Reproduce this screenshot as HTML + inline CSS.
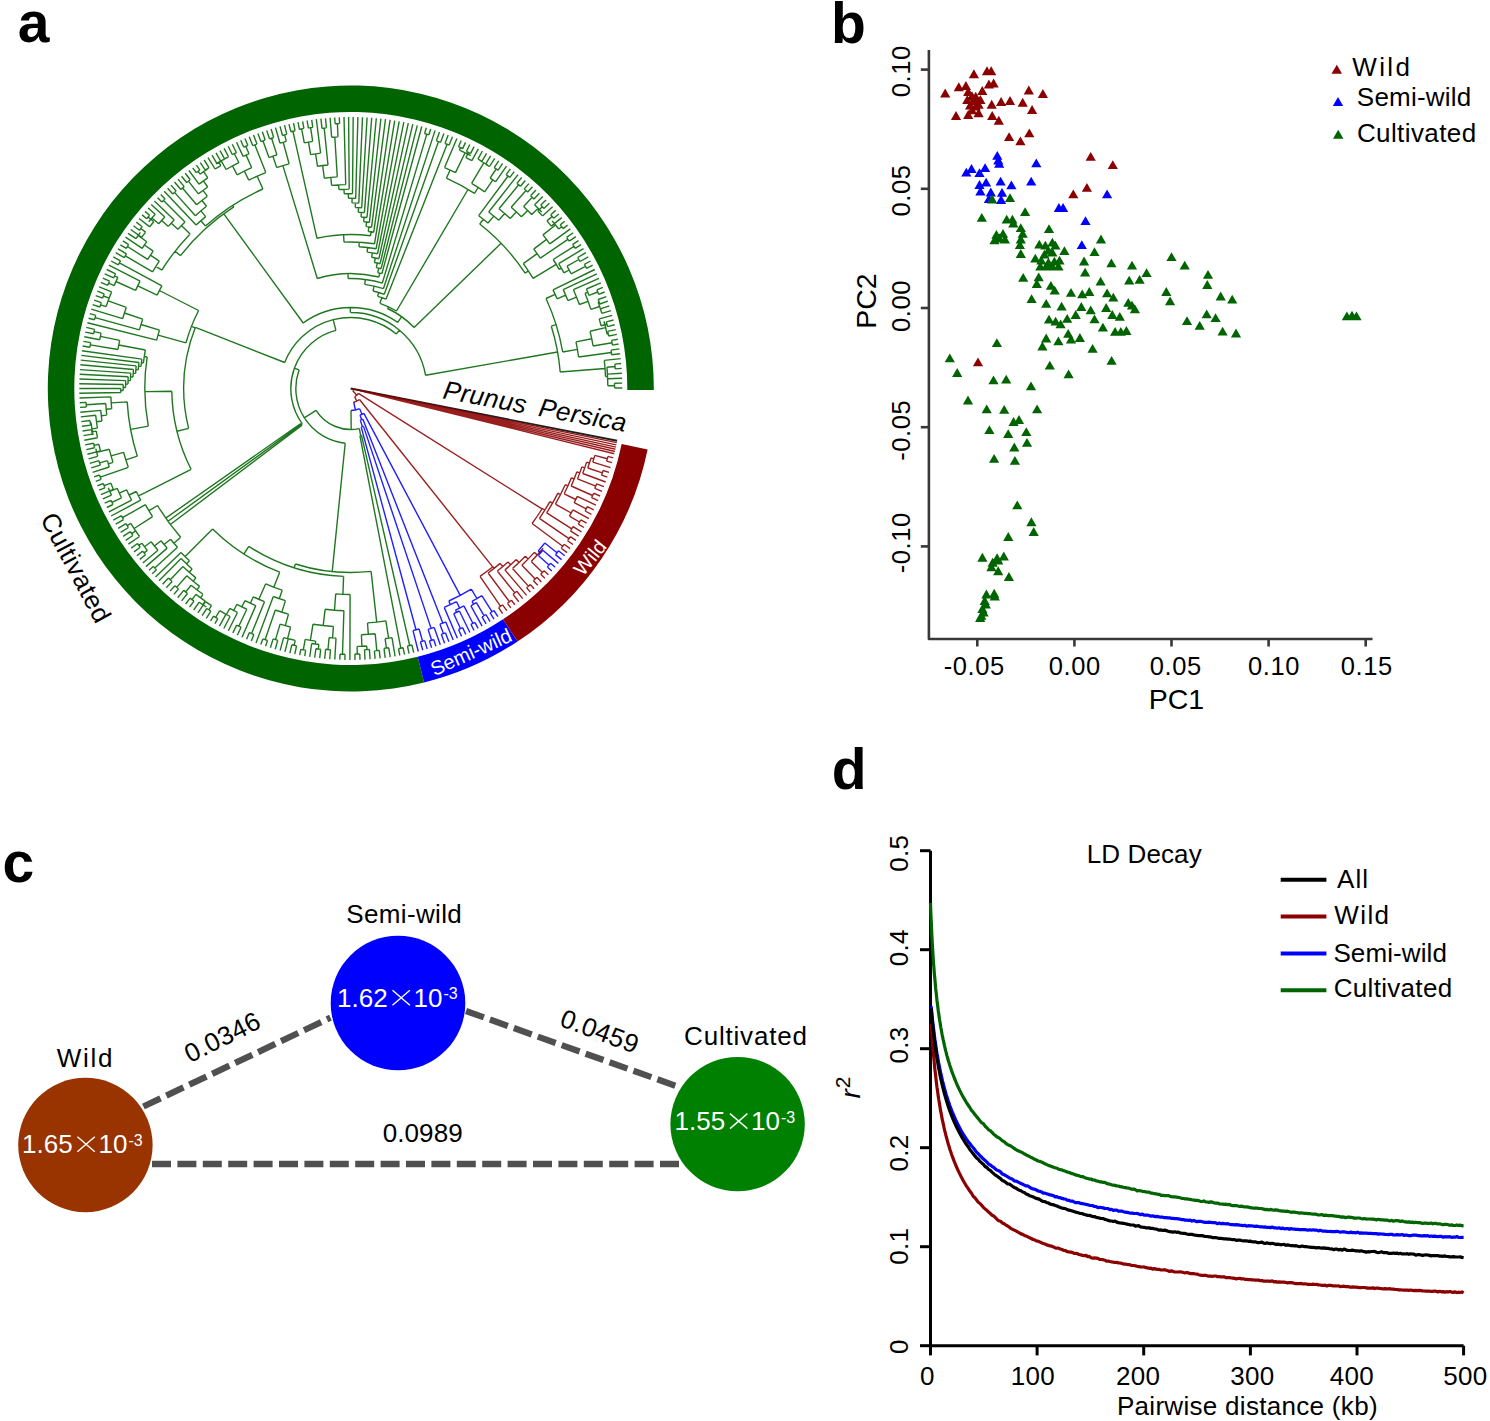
<!DOCTYPE html>
<html><head><meta charset="utf-8"><style>
html,body{margin:0;padding:0;background:#fff;}
svg{display:block;font-family:"Liberation Sans", sans-serif;}
</style></head><body>
<svg width="1490" height="1421" viewBox="0 0 1490 1421">
<rect width="1490" height="1421" fill="#fff"/>
<text x="17.8" y="42" font-size="57" font-weight="bold">a</text>
<text x="831" y="43" font-size="57" font-weight="bold">b</text>
<text x="2.5" y="882" font-size="57" font-weight="bold">c</text>
<text x="831.8" y="788.5" font-size="57" font-weight="bold">d</text>
<path d="M424.10 682.50A303 303 0 1 1 653.80 390.09L627.30 389.95A276.5 276.5 0 1 0 417.69 656.79Z" fill="#006400"/>
<path d="M517.60 641.46A303 303 0 0 1 424.10 682.50L417.69 656.79A276.5 276.5 0 0 0 503.01 619.34Z" fill="#0000ff"/>
<path d="M647.61 449.43A303 303 0 0 1 517.60 641.46L503.01 619.34A276.5 276.5 0 0 0 621.65 444.10Z" fill="#8b0000"/>
<path d="M350.8 388.5L617.2 440.8" fill="none" stroke="#000000" stroke-width="1.9" stroke-opacity="0.88"/>
<path d="M350.8 388.5L353.4 390.0M353.7 389.1A3.0 3.0 0 0 1 352.8 390.7M353.7 389.1L356.7 389.7M356.7 389.7A6.0 6.0 0 0 1 356.7 389.8M356.7 389.7L616.8 442.6M356.7 389.8L359.6 390.4M359.6 390.4A9.0 9.0 0 0 1 359.6 390.5M359.6 390.4L616.4 444.9M359.6 390.5L362.5 391.2M362.5 391.1A12.0 12.0 0 0 1 362.5 391.3M362.5 391.1L615.9 447.1M362.5 391.3L365.4 392.0M365.4 391.9A15.0 15.0 0 0 1 365.4 392.0M365.4 391.9L615.4 449.3M365.4 392.0L368.3 392.8M368.3 392.7A18.0 18.0 0 0 1 368.3 392.8M368.3 392.7L614.9 451.5M368.3 392.8L614.3 453.7M352.8 390.7L356.8 395.2M358.4 393.3A9.0 9.0 0 0 1 354.6 396.6M358.4 393.3L542.0 508.9M542.3 508.5A226.0 226.0 0 0 1 532.1 523.5M542.3 508.5L544.9 510.1M549.9 501.6A229.0 229.0 0 0 1 539.4 518.3M549.9 501.6L552.5 503.1M557.9 493.1A232.0 232.0 0 0 1 546.7 512.8M557.9 493.1L560.5 494.5M565.2 484.7A235.0 235.0 0 0 1 555.4 504.1M565.2 484.7L568.0 485.9M571.4 477.8A238.0 238.0 0 0 1 564.2 493.8M571.4 477.8L574.2 479.0M576.9 471.8A241.0 241.0 0 0 1 571.2 486.0M576.9 471.8L579.7 472.9M581.9 466.9A244.0 244.0 0 0 1 577.5 478.9M581.9 466.9L584.7 467.8M586.6 462.1A247.0 247.0 0 0 1 582.7 473.5M586.6 462.1L589.4 463.0M591.0 458.0A250.0 250.0 0 0 1 587.8 468.0M591.0 458.0L593.8 458.8M594.8 455.4A253.0 253.0 0 0 1 592.8 462.2M594.8 455.4L607.3 458.8M608.0 456.4A266.0 266.0 0 0 1 606.6 461.2M608.0 456.4L613.3 457.9M606.6 461.2L612.0 462.7M592.8 462.2L610.5 467.6M587.8 468.0L602.3 472.8M603.1 470.5A265.3 265.3 0 0 1 601.5 475.2M603.1 470.5L609.0 472.4M601.5 475.2L607.4 477.2M582.7 473.5L605.7 482.0M577.5 478.9L595.7 486.1M596.6 483.8A263.6 263.6 0 0 1 594.8 488.4M596.6 483.8L603.9 486.7M594.8 488.4L602.1 491.4M571.2 486.0L592.6 495.5M593.6 493.2A264.4 264.4 0 0 1 591.6 497.7M593.6 493.2L600.1 496.0M591.6 497.7L598.1 500.7M564.2 493.8L575.8 499.5M577.3 496.4A250.9 250.9 0 0 1 574.2 502.7M577.3 496.4L595.9 505.2M574.2 502.7L586.2 508.8M587.3 506.6A264.4 264.4 0 0 1 585.1 511.0M587.3 506.6L593.7 509.8M585.1 511.0L591.4 514.3M555.4 504.1L571.2 513.0M572.9 509.9A253.1 253.1 0 0 1 569.4 516.1M572.9 509.9L589.0 518.7M569.4 516.1L579.5 522.0M580.8 519.8A264.8 264.8 0 0 1 578.3 524.1M580.8 519.8L586.6 523.2M578.3 524.1L584.0 527.5M546.7 512.8L571.8 528.8M573.1 526.7A261.8 261.8 0 0 1 570.5 530.8M573.1 526.7L581.4 531.8M570.5 530.8L578.7 536.1M539.4 518.3L569.0 538.7M570.4 536.6A264.9 264.9 0 0 1 567.6 540.7M570.4 536.6L575.9 540.3M567.6 540.7L573.0 544.5M532.1 523.5L562.7 546.2M564.1 544.3A264.2 264.2 0 0 1 561.2 548.2M564.1 544.3L570.1 548.6M561.2 548.2L567.1 552.6M354.6 396.6L356.8 401.2M359.5 399.5A14.0 14.0 0 0 1 353.7 402.2M359.5 399.5L492.7 566.9M492.9 566.8A228.0 228.0 0 0 1 480.0 576.3M492.9 566.8L494.2 568.3M500.1 563.4A230.0 230.0 0 0 1 488.1 573.0M500.1 563.4L502.7 566.5M508.0 561.9A234.0 234.0 0 0 1 497.3 571.0M508.0 561.9L510.7 564.8M516.3 559.6A238.0 238.0 0 0 1 504.9 569.9M516.3 559.6L519.0 562.5M525.3 556.2A242.0 242.0 0 0 1 512.5 568.5M525.3 556.2L528.2 558.9M534.3 552.4A246.0 246.0 0 0 1 521.9 565.3M534.3 552.4L537.3 555.0M543.1 548.3A250.0 250.0 0 0 1 531.2 561.6M531.2 561.6L542.5 572.4M544.1 570.7A265.6 265.6 0 0 1 540.7 574.2M544.1 570.7L548.4 574.7M540.7 574.2L544.9 578.3M521.9 565.3L535.2 579.0M536.9 577.3A265.1 265.1 0 0 1 533.4 580.7M536.9 577.3L541.4 581.9M533.4 580.7L537.8 585.3M512.5 568.5L528.4 586.1M530.2 584.5A265.7 265.7 0 0 1 526.6 587.8M530.2 584.5L534.1 588.8M526.6 587.8L530.4 592.1M504.9 569.9L526.6 595.4M497.3 571.0L514.9 592.9M516.8 591.3A262.1 262.1 0 0 1 513.0 594.4M516.8 591.3L522.7 598.6M513.0 594.4L518.8 601.8M488.1 573.0L509.5 601.8M511.4 600.3A265.8 265.8 0 0 1 507.5 603.3M511.4 600.3L514.9 604.8M507.5 603.3L510.8 607.8M480.0 576.3L500.6 606.3M502.6 604.9A264.3 264.3 0 0 1 498.6 607.6M502.6 604.9L506.8 610.7M498.6 607.6L502.6 613.6" fill="none" stroke="#8b0000" stroke-width="1.4" stroke-opacity="0.88"/>
<path d="M544.8 543.0A248.0 248.0 0 0 1 538.2 550.9M544.8 543.0L557.0 552.7M558.5 550.8A263.6 263.6 0 0 1 555.5 554.6M558.5 550.8L564.7 555.7M555.5 554.6L561.6 559.6M538.2 550.9L540.6 552.9M542.8 550.3A251.1 251.1 0 0 1 538.3 555.6M542.8 550.3L558.4 563.4M538.3 555.6L549.0 565.1M550.6 563.3A265.5 265.5 0 0 1 547.3 566.9M550.6 563.3L555.2 567.3M547.3 566.9L551.8 571.0M353.7 402.2L355.4 410.0M359.6 408.7A22.0 22.0 0 0 1 351.0 410.5M359.6 408.7L362.0 414.2M363.9 413.3A28.0 28.0 0 0 1 360.0 415.0M363.9 413.3L460.2 595.4M471.3 589.1A234.0 234.0 0 0 1 448.8 601.0M471.3 589.1L476.9 598.5M481.8 595.6A245.0 245.0 0 0 1 472.0 601.4M481.8 595.6L492.0 611.7M493.9 610.5A264.1 264.1 0 0 1 490.1 612.9M493.9 610.5L497.9 616.7M490.1 612.9L494.0 619.2M472.0 601.4L473.6 604.2M476.4 602.7A248.3 248.3 0 0 1 470.9 605.8M476.4 602.7L484.0 615.7M485.9 614.5A263.3 263.3 0 0 1 482.0 616.8M485.9 614.5L490.1 621.6M482.0 616.8L486.1 623.9M470.9 605.8L482.1 626.1M448.8 601.0L450.4 604.6M456.6 601.7A238.0 238.0 0 0 1 444.2 607.4M456.6 601.7L459.7 608.1M463.9 605.9A245.1 245.1 0 0 1 455.5 610.1M463.9 605.9L472.9 623.3M474.9 622.3A264.6 264.6 0 0 1 470.9 624.3M474.9 622.3L478.1 628.3M470.9 624.3L474.0 630.4M455.5 610.1L456.6 612.3M459.4 611.0A247.6 247.6 0 0 1 453.7 613.7M459.4 611.0L469.9 632.5M453.7 613.7L460.5 628.5M462.6 627.6A263.9 263.9 0 0 1 458.5 629.5M462.6 627.6L465.8 634.5M458.5 629.5L461.6 636.4M444.2 607.4L457.4 638.2M360.0 415.0L361.6 419.7M362.9 419.2A33.0 33.0 0 0 1 360.3 420.1M362.9 419.2L442.8 623.1M445.8 621.9A252.0 252.0 0 0 1 439.9 624.2M445.8 621.9L453.2 640.0M439.9 624.2L443.4 633.6M445.4 632.8A262.0 262.0 0 0 1 441.3 634.3M445.4 632.8L448.9 641.7M441.3 634.3L444.6 643.3M360.3 420.1L362.4 426.8M363.5 426.4A40.0 40.0 0 0 1 361.2 427.1M363.5 426.4L431.1 628.4M434.2 627.4A253.0 253.0 0 0 1 428.1 629.4M434.2 627.4L440.3 644.8M428.1 629.4L431.6 640.2M433.7 639.5A264.3 264.3 0 0 1 429.4 640.9M433.7 639.5L435.9 646.3M429.4 640.9L431.6 647.7M361.2 427.1L416.0 629.8M419.1 629.0A250.0 250.0 0 0 1 413.0 630.6M419.1 629.0L422.6 641.2M424.7 640.6A262.7 262.7 0 0 1 420.4 641.8M424.7 640.6L427.2 649.0M420.4 641.8L422.8 650.3M413.0 630.6L418.3 651.5" fill="none" stroke="#0000ff" stroke-width="1.4" stroke-opacity="0.88"/>
<path d="M351.0 410.5L351.2 429.5M359.3 428.6A41.0 41.0 0 0 1 316.1 410.3M359.3 428.6L360.7 435.5M361.5 435.3A48.0 48.0 0 0 1 359.9 435.6M361.5 435.3L409.7 645.5M411.9 645.0A263.7 263.7 0 0 1 407.4 646.0M411.9 645.0L413.7 652.6M407.4 646.0L409.1 653.7M359.9 435.6L400.8 648.1M403.1 647.7A264.4 264.4 0 0 1 398.5 648.5M403.1 647.7L404.5 654.6M398.5 648.5L399.8 655.5M316.1 410.3L304.3 417.8M345.2 443.2A55.0 55.0 0 0 1 299.1 369.8M345.2 443.2L332.2 571.6M371.1 571.4A184.0 184.0 0 0 1 295.4 564.0M371.1 571.4L376.7 622.1M385.9 620.9A235.0 235.0 0 0 1 367.5 622.9M385.9 620.9L388.6 638.2M392.0 637.6A252.5 252.5 0 0 1 385.1 638.7M392.0 637.6L395.1 656.4M385.1 638.7L386.4 648.1M388.8 647.8A262.0 262.0 0 0 1 384.0 648.4M388.8 647.8L390.2 657.1M384.0 648.4L385.2 657.8M367.5 622.9L368.3 634.4M375.2 633.8A246.5 246.5 0 0 1 361.4 634.8M375.2 633.8L376.8 650.6M379.3 650.4A263.4 263.4 0 0 1 374.4 650.9M379.3 650.4L380.1 658.4M374.4 650.9L375.1 658.9M361.4 634.8L361.9 646.3M366.7 646.0A258.0 258.0 0 0 1 357.1 646.4M366.7 646.0L367.0 649.6M369.4 649.4A261.6 261.6 0 0 1 364.5 649.7M369.4 649.4L370.1 659.3M364.5 649.7L365.0 659.6M357.1 646.4L357.3 654.0M359.8 653.9A265.5 265.5 0 0 1 354.9 654.0M359.8 653.9L360.0 659.8M354.9 654.0L355.0 660.0M295.4 564.0L294.2 567.8M343.6 576.4A188.0 188.0 0 0 1 248.8 546.4M343.6 576.4L342.9 594.3M350.1 594.5A206.0 206.0 0 0 1 335.7 593.9M350.1 594.5L349.9 660.0M335.7 593.9L334.5 610.2M343.9 610.7A222.3 222.3 0 0 1 325.1 609.3M343.9 610.7L342.5 654.1M345.0 654.2A265.8 265.8 0 0 1 340.0 654.1M345.0 654.2L344.9 659.9M340.0 654.1L339.8 659.8M325.1 609.3L323.2 625.6M333.4 626.5A238.7 238.7 0 0 1 313.0 624.2M333.4 626.5L332.6 637.9M336.0 638.1A250.0 250.0 0 0 1 329.1 637.6M336.0 638.1L334.8 659.5M329.1 637.6L328.0 649.5M330.5 649.7A262.0 262.0 0 0 1 325.6 649.3M330.5 649.7L329.7 659.2M325.6 649.3L324.7 658.7M313.0 624.2L310.4 640.3M315.7 641.1A255.0 255.0 0 0 1 305.2 639.4M315.7 641.1L315.3 644.0M318.9 644.5A258.0 258.0 0 0 1 311.7 643.5M318.9 644.5L318.3 649.0M320.7 649.3A262.6 262.6 0 0 1 315.9 648.7M320.7 649.3L319.7 658.2M315.9 648.7L314.7 657.6M311.7 643.5L309.7 656.9M305.2 639.4L303.3 649.9M305.7 650.3A265.6 265.6 0 0 1 300.8 649.4M305.7 650.3L304.7 656.1M300.8 649.4L299.7 655.2M248.8 546.4L243.9 554.0M279.7 572.2A197.0 197.0 0 0 1 212.6 528.9M279.7 572.2L273.9 587.1M282.2 590.2A213.0 213.0 0 0 1 265.7 583.8M282.2 590.2L279.3 598.7M285.4 600.6A222.0 222.0 0 0 1 273.3 596.5M285.4 600.6L281.9 612.1M288.5 614.1A234.0 234.0 0 0 1 275.3 610.0M288.5 614.1L285.3 625.6M290.6 627.0A246.0 246.0 0 0 1 280.1 624.1M290.6 627.0L287.6 638.6M291.7 639.6A258.0 258.0 0 0 1 283.6 637.6M295.2 640.4A258.0 258.0 0 0 1 288.2 638.8M295.2 640.4L294.1 645.4M296.5 645.9A263.0 263.0 0 0 1 291.8 644.8M296.5 645.9L294.8 654.2M291.8 644.8L289.9 653.1M288.2 638.8L284.9 651.9M283.6 637.6L280.1 650.6M280.1 624.1L275.5 639.6M277.8 640.3A262.1 262.1 0 0 1 273.1 638.9M277.8 640.3L275.2 649.3M273.1 638.9L270.4 647.8M275.3 610.0L265.1 639.7M267.5 640.5A265.4 265.4 0 0 1 262.8 638.9M267.5 640.5L265.6 646.3M262.8 638.9L260.8 644.6M273.3 596.5L256.0 642.9M265.7 583.8L258.9 599.3M264.5 601.7A230.0 230.0 0 0 1 253.3 596.8M264.5 601.7L251.6 633.6M253.9 634.5A264.4 264.4 0 0 1 249.4 632.6M253.9 634.5L251.3 641.1M249.4 632.6L246.6 639.2M253.3 596.8L250.4 603.2M255.8 605.6A237.0 237.0 0 0 1 245.0 600.6M255.8 605.6L242.0 637.2M245.0 600.6L241.8 606.8M246.8 609.2A244.0 244.0 0 0 1 236.9 604.3M246.8 609.2L238.8 626.2M241.0 627.2A262.7 262.7 0 0 1 236.6 625.1M241.0 627.2L237.4 635.2M236.6 625.1L232.8 633.0M236.9 604.3L233.7 610.5M237.5 612.5A251.0 251.0 0 0 1 229.8 608.4M237.5 612.5L228.3 630.8M229.8 608.4L226.4 614.5M230.1 616.5A258.0 258.0 0 0 1 222.8 612.5M230.1 616.5L223.8 628.5M225.9 614.3A258.0 258.0 0 0 1 219.7 610.7M225.9 614.3L219.4 626.1M219.7 610.7L215.6 617.5M217.8 618.7A265.9 265.9 0 0 1 213.5 616.2M217.8 618.7L215.0 623.6M213.5 616.2L210.6 621.0M212.6 528.9L185.2 556.6M189.5 560.7A236.0 236.0 0 0 1 181.0 552.4M189.5 560.7L186.5 563.9M192.1 569.0A240.3 240.3 0 0 1 181.1 558.6M192.1 569.0L189.3 572.3M195.9 577.9A244.7 244.7 0 0 1 182.9 566.5M195.9 577.9L193.1 581.2M199.6 586.4A249.0 249.0 0 0 1 186.8 575.8M199.6 586.4L197.0 589.8M203.0 594.3A253.3 253.3 0 0 1 191.1 585.2M203.0 594.3L200.5 597.8M205.2 601.1A257.7 257.7 0 0 1 195.9 594.4M205.2 601.1L202.7 604.6M206.3 607.0A262.0 262.0 0 0 1 199.2 602.2M211.5 605.7A258.0 258.0 0 0 1 205.5 601.7M211.5 605.7L208.8 609.8M210.9 611.1A262.9 262.9 0 0 1 206.8 608.5M210.9 611.1L206.3 618.4M206.8 608.5L202.1 615.6M205.5 601.7L197.9 612.8M199.2 602.2L193.7 610.0M195.9 594.4L192.0 599.6M194.0 601.1A264.2 264.2 0 0 1 190.1 598.1M194.0 601.1L189.6 607.0M190.1 598.1L185.6 604.0M191.1 585.2L185.6 592.0M187.5 593.5A262.1 262.1 0 0 1 183.7 590.4M187.5 593.5L181.6 600.9M183.7 590.4L177.7 597.7M186.8 575.8L176.7 587.4M178.5 589.0A264.4 264.4 0 0 1 174.8 585.8M178.5 589.0L173.9 594.4M174.8 585.8L170.1 591.1M182.9 566.5L170.3 579.8M172.1 581.5A263.0 263.0 0 0 1 168.5 578.1M172.1 581.5L166.3 587.7M168.5 578.1L162.6 584.2M181.1 558.6L159.0 580.7M181.0 552.4L155.5 577.1M299.1 369.8L294.4 368.1M302.3 423.8A60.0 60.0 0 0 1 335.9 330.4M302.3 423.8L301.4 424.4M302.1 425.2L170.3 524.5M301.4 424.4L168.0 521.3M300.8 423.5L165.7 518.1M180.7 537.3A226.0 226.0 0 0 1 157.5 505.5M180.7 537.3L173.9 543.3M177.5 547.3A235.0 235.0 0 0 1 170.5 539.2M177.5 547.3L154.8 568.1M156.4 569.8A265.8 265.8 0 0 1 153.3 566.4M156.4 569.8L152.2 573.7M153.3 566.4L149.0 570.2M170.5 539.2L164.1 544.5M167.2 548.1A243.3 243.3 0 0 1 161.0 540.8M167.2 548.1L145.9 566.6M161.0 540.8L154.5 546.0M158.0 550.3A251.7 251.7 0 0 1 151.1 541.7M158.0 550.3L142.8 563.0M151.1 541.7L144.5 546.8M147.3 550.4A260.0 260.0 0 0 1 141.8 543.2M147.3 550.4L144.1 552.9M145.5 554.7A264.2 264.2 0 0 1 142.6 551.1M145.5 554.7L139.8 559.4M142.6 551.1L136.9 555.7M141.8 543.2L138.8 545.4M140.2 547.2A263.7 263.7 0 0 1 137.5 543.5M140.2 547.2L134.0 551.9M137.5 543.5L131.2 548.1M157.5 505.5L148.9 510.7M152.6 516.6A236.0 236.0 0 0 1 145.4 504.7M152.6 516.6L134.1 528.5M137.5 533.7A258.0 258.0 0 0 1 130.8 523.3M139.5 536.5A258.0 258.0 0 0 1 135.7 530.9M139.5 536.5L128.4 544.2M135.7 530.9L131.6 533.6M132.9 535.5A262.8 262.8 0 0 1 130.4 531.7M132.9 535.5L125.7 540.3M130.4 531.7L123.1 536.4M130.8 523.3L127.2 525.6M128.4 527.5A262.3 262.3 0 0 1 126.0 523.6M128.4 527.5L120.6 532.4M126.0 523.6L118.1 528.3M145.4 504.7L122.5 517.7M123.6 519.7A262.3 262.3 0 0 1 121.4 515.7M123.6 519.7L115.7 524.2M121.4 515.7L113.3 520.1M335.9 330.4L333.2 319.7M284.7 362.5A71.0 71.0 0 0 1 396.3 334.0M284.7 362.5L195.4 327.3M188.6 428.4A167.0 167.0 0 0 1 195.4 327.3M188.6 428.4L177.0 431.3M191.1 469.3A179.0 179.0 0 0 1 171.8 391.2M191.1 469.3L144.7 492.8M144.7 492.8L138.4 495.9M140.7 500.2A238.0 238.0 0 0 1 136.3 491.5M140.7 500.2L111.1 516.0M136.3 491.5L129.1 495.0M131.6 500.2A246.0 246.0 0 0 1 126.6 489.8M131.6 500.2L108.9 511.8M126.6 489.8L119.3 493.1M121.5 497.8A254.0 254.0 0 0 1 117.2 488.3M121.5 497.8L112.0 502.4M113.0 504.5A264.6 264.6 0 0 1 111.0 500.3M113.0 504.5L106.8 507.5M111.0 500.3L104.7 503.2M117.2 488.3L109.9 491.4M111.5 495.1A262.0 262.0 0 0 1 108.3 487.7M111.5 495.1L102.8 498.9M113.3 489.3A258.0 258.0 0 0 1 110.8 483.1M113.3 489.3L100.9 494.6M110.8 483.1L104.1 485.7M104.9 487.8A265.2 265.2 0 0 1 103.3 483.5M104.9 487.8L99.1 490.2M103.3 483.5L97.3 485.8M171.8 391.2L144.8 391.6M148.3 426.1A206.0 206.0 0 0 1 147.2 356.9M148.3 426.1L130.6 429.4M137.3 456.2A224.0 224.0 0 0 1 127.2 401.9M137.3 456.2L125.8 459.8M128.3 467.3A236.0 236.0 0 0 1 123.6 452.3M128.3 467.3L100.3 477.2M101.1 479.4A265.8 265.8 0 0 1 99.5 475.0M101.1 479.4L95.7 481.4M99.5 475.0L94.1 476.9M123.6 452.3L111.1 455.8M113.0 462.3A249.0 249.0 0 0 1 109.3 449.3M113.0 462.3L108.3 463.8M109.3 467.0A253.9 253.9 0 0 1 107.4 460.6M109.3 467.0L92.6 472.4M107.4 460.6L99.7 462.9M100.3 465.1A261.9 261.9 0 0 1 99.0 460.7M100.3 465.1L91.2 467.9M99.0 460.7L89.8 463.3M109.3 449.3L96.7 452.4M97.7 456.3A262.0 262.0 0 0 1 95.8 448.6M97.7 456.3L88.6 458.8M100.5 450.9A258.0 258.0 0 0 1 98.9 444.3M100.5 450.9L87.4 454.2M98.9 444.3L94.1 445.4M94.6 447.7A263.0 263.0 0 0 1 93.6 443.2M94.6 447.7L86.3 449.6M93.6 443.2L85.2 444.9M127.2 401.9L111.2 402.9M111.7 408.8A240.0 240.0 0 0 1 110.9 396.9M111.7 408.8L106.2 409.3M106.7 415.1A245.5 245.5 0 0 1 105.8 403.5M106.7 415.1L101.3 415.7M101.9 421.0A251.0 251.0 0 0 1 100.8 410.4M101.9 421.0L96.5 421.7M97.4 428.1A256.5 256.5 0 0 1 95.7 415.3M97.4 428.1L91.9 428.9M93.0 435.1A262.0 262.0 0 0 1 91.0 422.7M97.5 437.7A258.0 258.0 0 0 1 96.3 431.1M97.5 437.7L84.3 440.3M96.3 431.1L91.9 431.8M92.3 434.1A262.5 262.5 0 0 1 91.6 429.6M92.3 434.1L83.4 435.6M91.6 429.6L82.6 431.0M91.0 422.7L90.3 422.8M90.6 425.1A262.7 262.7 0 0 1 90.0 420.5M90.6 425.1L81.9 426.3M90.0 420.5L81.3 421.6M95.7 415.3L80.8 416.9M100.8 410.4L80.3 412.2M105.8 403.5L86.3 404.7M86.4 407.0A265.0 265.0 0 0 1 86.1 402.4M86.4 407.0L80.0 407.4M86.1 402.4L79.7 402.7M110.9 396.9L79.5 398.0M147.2 356.9L144.3 356.5M143.4 363.0A209.0 209.0 0 0 1 145.4 350.0M143.4 363.0L141.4 362.8M141.0 366.4A211.0 211.0 0 0 1 141.9 359.1M141.0 366.4L138.6 366.2M138.2 369.9A213.4 213.4 0 0 1 139.0 362.5M138.2 369.9L135.9 369.7M135.6 373.4A215.8 215.8 0 0 1 136.2 365.9M135.6 373.4L133.2 373.2M133.0 377.0A218.1 218.1 0 0 1 133.5 369.5M133.0 377.0L130.6 376.8M130.4 380.6A220.5 220.5 0 0 1 130.8 373.1M130.4 380.6L128.1 380.5M128.0 384.1A222.9 222.9 0 0 1 128.2 376.8M128.0 384.1L125.6 384.1M125.6 387.5A225.2 225.2 0 0 1 125.7 380.6M125.6 387.5L123.2 387.5M123.2 390.5A227.6 227.6 0 0 1 123.2 384.5M123.2 390.5L120.8 390.5M120.8 392.5A230.0 230.0 0 0 1 120.8 388.5M120.8 392.5L79.3 393.2M120.8 388.5L79.3 388.5M123.2 384.5L79.3 383.8M125.7 380.6L79.5 379.0M128.2 376.8L79.7 374.3M130.8 373.1L80.0 369.6M133.5 369.5L80.3 364.8M136.2 365.9L80.8 360.1M139.0 362.5L81.3 355.4M141.9 359.1L81.9 350.7M145.4 350.0L118.8 345.0M118.0 349.5A236.0 236.0 0 0 1 119.7 340.4M118.0 349.5L90.3 344.9M90.0 347.2A264.1 264.1 0 0 1 90.7 342.6M90.0 347.2L82.6 346.0M90.7 342.6L83.4 341.4M119.7 340.4L100.4 336.4M99.8 339.7A255.7 255.7 0 0 1 101.1 333.1M99.8 339.7L84.3 336.7M101.1 333.1L94.1 331.6M93.6 333.8A262.9 262.9 0 0 1 94.6 329.4M93.6 333.8L85.2 332.1M94.6 329.4L86.3 327.4M195.2 327.8L191.5 326.4M186.0 342.8A171.0 171.0 0 0 1 198.6 310.5M186.0 342.8L158.1 335.1M156.7 340.1A200.0 200.0 0 0 1 159.5 330.1M156.7 340.1L87.4 322.8M159.5 330.1L141.0 324.5M139.4 329.9A219.3 219.3 0 0 1 142.7 319.1M139.4 329.9L95.1 317.6M94.5 319.8A265.3 265.3 0 0 1 95.8 315.4M94.5 319.8L88.6 318.2M95.8 315.4L89.8 313.7M142.7 319.1L124.4 313.0M122.6 318.7A238.7 238.7 0 0 1 126.3 307.4M122.6 318.7L91.2 309.1M126.3 307.4L108.2 300.8M106.1 306.6A258.0 258.0 0 0 1 110.3 295.0M106.1 306.6L100.6 304.8M99.9 307.0A263.8 263.8 0 0 1 101.3 302.6M99.9 307.0L92.6 304.6M101.3 302.6L94.1 300.1M109.1 298.1A258.0 258.0 0 0 1 111.6 291.9M109.1 298.1L103.4 296.0M102.6 298.2A264.2 264.2 0 0 1 104.2 293.8M102.6 298.2L95.7 295.6M104.2 293.8L97.3 291.2M111.6 291.9L99.1 286.8M198.6 310.5L159.4 290.5M157.1 295.1A215.0 215.0 0 0 1 161.9 285.9M157.1 295.1L137.8 285.8M135.6 290.4A236.5 236.5 0 0 1 140.1 281.1M135.6 290.4L116.0 281.5M114.2 285.6A258.0 258.0 0 0 1 117.9 277.4M114.2 285.6L108.6 283.2M107.7 285.3A264.1 264.1 0 0 1 109.6 281.1M107.7 285.3L100.9 282.4M109.6 281.1L102.8 278.1M117.9 277.4L114.6 275.9M113.7 277.9A261.7 261.7 0 0 1 115.6 273.8M113.7 277.9L104.7 273.8M115.6 273.8L106.8 269.5M140.1 281.1L108.9 265.2M161.9 285.9L119.4 262.8M118.3 264.9A263.4 263.4 0 0 1 120.5 260.8M118.3 264.9L111.1 261.0M120.5 260.8L113.3 256.9M396.3 334.0L399.5 330.1M350.4 312.5A76.0 76.0 0 0 1 425.6 375.3M350.4 312.5L350.3 307.5M303.2 323.0A81.0 81.0 0 0 1 397.7 322.4M303.2 323.0L223.8 213.8M180.5 255.6A216.0 216.0 0 0 1 233.8 206.9M180.5 255.6L175.0 251.3M161.8 270.1A223.0 223.0 0 0 1 190.1 233.9M161.8 270.1L155.9 266.4M152.6 271.8A230.0 230.0 0 0 1 159.3 261.1M152.6 271.8L125.3 255.8M124.2 257.7A261.6 261.6 0 0 1 126.5 253.8M124.2 257.7L115.7 252.7M126.5 253.8L118.0 248.8M159.3 261.1L150.4 255.2M147.7 259.4A240.7 240.7 0 0 1 153.2 251.1M147.7 259.4L127.4 246.5M126.2 248.4A264.7 264.7 0 0 1 128.6 244.6M126.2 248.4L120.4 244.8M128.6 244.6L122.9 240.9M153.2 251.1L144.5 245.0M142.2 248.3A251.3 251.3 0 0 1 146.8 241.7M142.2 248.3L125.5 237.1M146.8 241.7L138.1 235.5M135.9 238.7A262.0 262.0 0 0 1 140.4 232.4M135.9 238.7L128.1 233.3M141.7 237.4A258.0 258.0 0 0 1 145.6 232.1M141.7 237.4L130.7 229.5M145.6 232.1L140.8 228.5M139.5 230.3A264.0 264.0 0 0 1 142.2 226.7M139.5 230.3L133.5 225.8M142.2 226.7L136.3 222.1M190.1 233.9L181.4 225.6M177.9 229.3A235.0 235.0 0 0 1 185.0 222.0M177.9 229.3L171.3 223.2M168.4 226.4A244.0 244.0 0 0 1 174.2 220.1M168.4 226.4L161.7 220.4M158.7 223.8A253.0 253.0 0 0 1 164.8 217.0M158.7 223.8L151.9 218.0M148.7 221.8A262.0 262.0 0 0 1 155.2 214.2M149.7 226.9A258.0 258.0 0 0 1 153.8 221.8M149.7 226.9L139.1 218.5M153.8 221.8L148.1 217.0M146.7 218.7A265.5 265.5 0 0 1 149.6 215.3M146.7 218.7L142.1 214.9M149.6 215.3L145.0 211.4M155.2 214.2L148.1 207.9M164.8 217.0L151.2 204.5M174.2 220.1L154.4 201.1M185.0 222.0L163.5 200.5M161.9 202.1A265.4 265.4 0 0 1 165.1 198.9M161.9 202.1L157.6 197.8M165.1 198.9L160.8 194.5M233.8 206.9L232.7 205.2M205.5 226.0A218.0 218.0 0 0 1 262.9 189.0M205.5 226.0L200.8 220.8M196.1 225.1A225.0 225.0 0 0 1 205.7 216.6M196.1 225.1L164.2 191.3M205.7 216.6L200.9 210.9M195.4 215.7A232.4 232.4 0 0 1 206.5 206.3M195.4 215.7L174.5 192.4M172.8 194.0A263.7 263.7 0 0 1 176.2 191.0M172.8 194.0L167.6 188.2M176.2 191.0L171.0 185.1M206.5 206.3L202.0 200.5M196.6 204.8A239.8 239.8 0 0 1 207.4 196.3M196.6 204.8L182.5 188.0M180.8 189.5A261.7 261.7 0 0 1 184.2 186.6M180.8 189.5L174.5 182.0M184.2 186.6L178.0 179.1M207.4 196.3L203.0 190.4M198.4 193.9A247.2 247.2 0 0 1 207.7 187.0M198.4 193.9L188.4 181.1M186.6 182.5A263.4 263.4 0 0 1 190.2 179.7M186.6 182.5L181.6 176.2M190.2 179.7L185.2 173.3M207.7 187.0L203.4 180.9M199.0 184.1A254.6 254.6 0 0 1 207.8 177.8M199.0 184.1L188.9 170.5M207.8 177.8L203.7 171.7M200.0 174.2A262.0 262.0 0 0 1 207.4 169.2M200.0 174.2L198.0 171.4M196.2 172.7A265.5 265.5 0 0 1 199.9 170.1M196.2 172.7L192.7 167.8M199.9 170.1L196.4 165.2M207.4 169.2L207.2 168.9M205.3 170.1A262.4 262.4 0 0 1 209.0 167.7M205.3 170.1L200.3 162.6M209.0 167.7L204.1 160.0M262.9 189.0L257.2 176.2M248.8 180.1A232.0 232.0 0 0 1 265.8 172.6M248.8 180.1L244.4 171.2M237.2 174.8A242.0 242.0 0 0 1 251.7 167.7M237.2 174.8L232.5 166.0M226.1 169.5A252.0 252.0 0 0 1 238.9 162.7M226.1 169.5L221.2 160.8M215.9 163.9A262.0 262.0 0 0 1 226.5 157.8M215.1 169.0A258.0 258.0 0 0 1 220.8 165.7M215.1 169.0L208.0 157.6M220.8 165.7L218.9 162.4M217.0 163.6A261.7 261.7 0 0 1 220.8 161.3M217.0 163.6L212.0 155.2M220.8 161.3L216.0 152.8M226.5 157.8L226.5 157.8M224.6 158.9A262.0 262.0 0 0 1 228.5 156.8M224.6 158.9L220.0 150.6M228.5 156.8L224.1 148.4M238.9 162.7L234.4 153.7M232.4 154.7A262.1 262.1 0 0 1 236.4 152.7M232.4 154.7L228.2 146.3M236.4 152.7L232.3 144.2M251.7 167.7L246.1 155.1M243.1 156.4A255.8 255.8 0 0 1 249.0 153.8M243.1 156.4L236.5 142.2M249.0 153.8L245.8 146.3M243.8 147.2A263.9 263.9 0 0 1 247.9 145.5M243.8 147.2L240.7 140.3M247.9 145.5L244.9 138.5M265.8 172.6L254.9 144.9M252.8 145.7A261.8 261.8 0 0 1 257.0 144.1M252.8 145.7L249.2 136.7M257.0 144.1L253.5 135.0M397.7 322.4L401.7 316.7M387.5 308.5A88.0 88.0 0 0 1 414.1 327.4M387.5 308.5L388.4 306.7M379.9 303.3A90.0 90.0 0 0 1 396.5 311.0M379.9 303.3L381.8 297.7M377.6 296.3A96.0 96.0 0 0 1 386.0 299.2M377.6 296.3L378.7 292.5M373.0 291.0A100.0 100.0 0 0 1 384.3 294.3M373.0 291.0L374.1 286.1M364.7 284.4A105.0 105.0 0 0 1 383.4 288.7M364.7 284.4L365.4 279.5M348.1 278.5A110.0 110.0 0 0 1 382.3 283.1M348.1 278.5L348.0 273.5M317.3 278.5A115.0 115.0 0 0 1 378.8 277.0M317.3 278.5L282.9 165.6M276.7 167.6A233.0 233.0 0 0 1 289.1 163.8M276.7 167.6L272.9 156.2M269.0 157.6A245.0 245.0 0 0 1 276.9 154.9M269.0 157.6L263.0 140.9M260.9 141.6A262.7 262.7 0 0 1 265.2 140.1M260.9 141.6L257.9 133.4M265.2 140.1L262.3 131.8M276.9 154.9L271.6 138.2M269.5 138.8A262.6 262.6 0 0 1 273.7 137.5M269.5 138.8L266.7 130.4M273.7 137.5L271.1 129.0M289.1 163.8L283.2 142.3M280.0 143.2A255.3 255.3 0 0 1 286.3 141.4M280.0 143.2L275.5 127.6M286.3 141.4L284.6 134.9M282.5 135.5A262.1 262.1 0 0 1 286.8 134.4M282.5 135.5L280.0 126.4M286.8 134.4L284.5 125.2M378.8 277.0L379.8 273.1M377.7 272.6A119.0 119.0 0 0 1 381.9 273.6M377.7 272.6L378.7 268.1M376.3 267.6A123.6 123.6 0 0 1 381.1 268.7M376.3 267.6L377.3 263.1M374.4 262.5A128.2 128.2 0 0 1 380.1 263.7M374.4 262.5L375.3 258.0M371.6 257.3A132.8 132.8 0 0 1 378.9 258.7M371.6 257.3L372.4 252.8M367.1 252.1A137.4 137.4 0 0 1 377.6 253.7M367.1 252.1L367.6 247.5M359.0 246.7A142.0 142.0 0 0 1 376.1 248.8M359.0 246.7L359.3 242.1M344.0 242.1A146.6 146.6 0 0 1 374.5 243.8M344.0 242.1L343.6 234.7M317.0 238.3A154.0 154.0 0 0 1 370.5 235.8M317.0 238.3L292.9 131.2M290.8 131.7A263.7 263.7 0 0 1 295.1 130.7M290.8 131.7L289.0 124.1M295.1 130.7L293.5 123.1M370.5 235.8L371.0 231.8M368.3 231.5A158.0 158.0 0 0 1 373.7 232.2M368.3 231.5L368.8 226.9M366.1 226.6A162.6 162.6 0 0 1 371.6 227.2M366.1 226.6L366.5 222.0M363.7 221.8A167.2 167.2 0 0 1 369.4 222.3M363.7 221.8L364.0 217.2M361.1 217.0A171.8 171.8 0 0 1 367.0 217.5M361.1 217.0L361.3 212.4M358.3 212.3A176.4 176.4 0 0 1 364.4 212.6M358.3 212.3L358.5 207.7M355.3 207.6A181.0 181.0 0 0 1 361.7 207.8M355.3 207.6L355.4 203.0M352.0 202.9A185.6 185.6 0 0 1 358.8 203.1M352.0 202.9L352.1 198.3M348.4 198.3A190.2 190.2 0 0 1 355.7 198.4M348.4 198.3L348.4 193.7M344.2 193.8A194.8 194.8 0 0 1 352.5 193.7M344.2 193.8L344.0 189.2M338.9 189.5A199.4 199.4 0 0 1 349.2 189.1M338.9 189.5L338.6 184.9M331.6 185.4A204.0 204.0 0 0 1 345.7 184.6M331.6 185.4L330.8 177.4M324.3 178.2A212.0 212.0 0 0 1 337.3 176.9M324.3 178.2L322.7 165.6M317.5 166.3A224.7 224.7 0 0 1 328.0 165.0M317.5 166.3L315.6 153.8M310.6 154.6A237.3 237.3 0 0 1 320.6 153.1M310.6 154.6L308.5 142.1M304.3 142.9A250.0 250.0 0 0 1 312.7 141.4M304.3 142.9L301.6 128.8M299.4 129.3A264.3 264.3 0 0 1 303.9 128.4M299.4 129.3L298.0 122.2M303.9 128.4L302.6 121.3M312.7 141.4L310.6 127.7M308.4 128.1A263.8 263.8 0 0 1 312.8 127.4M308.4 128.1L307.1 120.5M312.8 127.4L311.7 119.8M320.6 153.1L316.3 119.2M328.0 165.0L324.2 128.1M322.0 128.4A261.7 261.7 0 0 1 326.4 127.9M322.0 128.4L320.9 118.7M326.4 127.9L325.5 118.2M337.3 176.9L334.8 137.1M331.6 137.3A251.9 251.9 0 0 1 338.0 136.9M331.6 137.3L330.1 117.8M338.0 136.9L337.4 123.7M335.1 123.8A265.2 265.2 0 0 1 339.6 123.5M335.1 123.8L334.7 117.5M339.6 123.5L339.3 117.2M345.7 184.6L344.0 117.1M349.2 189.1L348.6 117.0M352.5 193.7L353.2 117.0M355.7 198.4L357.9 117.1M358.8 203.1L362.5 117.3M361.7 207.8L367.1 117.5M364.4 212.6L371.7 117.8M367.0 217.5L376.3 118.2M369.4 222.3L380.9 118.7M371.6 227.2L385.5 119.2M373.7 232.2L390.1 119.9M374.5 243.8L394.7 120.6M376.1 248.8L399.2 121.4M377.6 253.7L403.8 122.2M378.9 258.7L408.3 123.2M380.1 263.7L412.8 124.2M381.1 268.7L417.3 125.3M381.9 273.6L421.8 126.5M382.3 283.1L426.8 134.1M424.6 133.5A265.5 265.5 0 0 1 428.9 134.8M424.6 133.5L426.3 127.7M428.9 134.8L430.7 129.0M383.4 288.7L435.1 130.4M384.3 294.3L438.5 141.6M436.4 140.8A262.0 262.0 0 0 1 440.6 142.3M436.4 140.8L439.5 131.9M440.6 142.3L443.9 133.4M386.0 299.2L447.1 144.3M445.0 143.5A262.5 262.5 0 0 1 449.1 145.1M445.0 143.5L448.2 135.1M449.1 145.1L452.5 136.8M396.5 311.0L468.0 189.5M446.4 178.2A231.0 231.0 0 0 1 474.5 193.4M446.4 178.2L450.1 170.0M444.6 167.6A240.0 240.0 0 0 1 455.5 172.6M444.6 167.6L456.9 138.6M455.5 172.6L465.1 152.8M459.4 150.1A262.0 262.0 0 0 1 470.8 155.6M459.4 150.1L460.6 147.6M458.5 146.7A264.7 264.7 0 0 1 462.7 148.6M458.5 146.7L461.2 140.5M462.7 148.6L465.5 142.4M465.9 157.6A258.0 258.0 0 0 1 471.9 160.7M465.9 157.6L468.5 152.5M466.4 151.5A263.7 263.7 0 0 1 470.5 153.6M466.4 151.5L469.8 144.5M470.5 153.6L474.1 146.6M471.9 160.7L478.3 148.8M474.5 193.4L478.2 187.5M471.6 183.4A238.0 238.0 0 0 1 484.7 191.8M471.6 183.4L483.8 162.8M479.8 160.5A262.0 262.0 0 0 1 487.7 165.1M479.8 160.5L479.9 160.3M477.9 159.2A262.2 262.2 0 0 1 481.9 161.4M477.9 159.2L482.4 151.0M481.9 161.4L486.6 153.4M485.6 164.1A261.8 261.8 0 0 1 489.5 166.5M485.6 164.1L490.6 155.8M489.5 166.5L494.7 158.3M484.7 191.8L492.8 179.9M490.1 178.1A252.3 252.3 0 0 1 495.5 181.8M490.1 178.1L496.1 169.0M494.2 167.7A263.3 263.3 0 0 1 498.0 170.3M494.2 167.7L498.7 160.8M498.0 170.3L502.6 163.4M495.5 181.8L506.5 166.1M414.1 327.4L501.1 243.3M479.7 224.0A209.0 209.0 0 0 1 525.1 273.1M479.7 224.0L483.4 219.3M478.7 215.7A215.0 215.0 0 0 1 488.0 223.0M478.7 215.7L508.1 176.0M506.2 174.6A264.4 264.4 0 0 1 509.9 177.4M506.2 174.6L510.4 168.9M509.9 177.4L514.2 171.7M488.0 223.0L493.8 216.1M488.7 212.0A224.0 224.0 0 0 1 498.7 220.3M488.7 212.0L518.0 174.6M498.7 220.3L504.7 213.5M499.0 208.7A233.0 233.0 0 0 1 510.2 218.5M499.0 208.7L518.7 184.8M516.9 183.4A263.9 263.9 0 0 1 520.5 186.3M516.9 183.4L521.7 177.5M520.5 186.3L525.3 180.5M510.2 218.5L516.3 212.0M511.2 207.3A242.0 242.0 0 0 1 521.4 216.8M511.2 207.3L526.0 190.5M524.3 188.9A264.4 264.4 0 0 1 527.7 192.0M524.3 188.9L528.9 183.6M527.7 192.0L532.5 186.7M521.4 216.8L527.7 210.4M523.6 206.4A251.0 251.0 0 0 1 531.7 214.5M523.6 206.4L532.2 197.3M530.6 195.7A263.6 263.6 0 0 1 533.9 198.9M530.6 195.7L536.0 189.9M533.9 198.9L539.4 193.2M531.7 214.5L538.2 208.3M534.6 204.7A260.0 260.0 0 0 1 541.7 212.0M534.6 204.7L542.8 196.5M537.9 210.9A258.0 258.0 0 0 1 542.5 215.9M537.9 210.9L542.3 206.7M540.7 205.1A264.1 264.1 0 0 1 543.9 208.4M540.7 205.1L546.1 199.9M543.9 208.4L549.4 203.3M542.5 215.9L552.6 206.8M525.1 273.1L528.4 270.9M523.3 263.6A213.0 213.0 0 0 1 533.1 278.4M523.3 263.6L537.1 253.6M533.7 249.1A230.0 230.0 0 0 1 540.3 258.2M533.7 249.1L546.5 239.4M543.0 234.9A246.0 246.0 0 0 1 549.8 243.9M543.0 234.9L555.5 225.0M552.2 221.0A262.0 262.0 0 0 1 558.7 229.0M547.0 220.9A258.0 258.0 0 0 1 551.3 226.1M547.0 220.9L552.2 216.4M550.7 214.7A264.9 264.9 0 0 1 553.7 218.2M550.7 214.7L555.7 210.4M553.7 218.2L558.8 214.0M551.3 226.1L561.8 217.6M558.7 229.0L561.7 226.7M560.2 224.9A265.8 265.8 0 0 1 563.1 228.6M560.2 224.9L564.7 221.3M563.1 228.6L567.6 225.1M549.8 243.9L570.4 228.9M540.3 258.2L567.9 239.3M566.6 237.4A263.4 263.4 0 0 1 569.2 241.2M566.6 237.4L573.2 232.8M569.2 241.2L575.9 236.7M533.1 278.4L556.2 264.4M553.2 259.5A240.0 240.0 0 0 1 559.2 269.4M553.2 259.5L574.0 246.3M572.7 244.4A264.6 264.6 0 0 1 575.2 248.3M572.7 244.4L578.5 240.6M575.2 248.3L581.0 244.6M559.2 269.4L561.3 268.2M558.7 263.6A242.5 242.5 0 0 1 563.9 272.8M558.7 263.6L583.5 248.7M563.9 272.8L569.1 270.0M567.0 266.2A248.4 248.4 0 0 1 571.1 273.8M567.0 266.2L578.9 259.5M577.7 257.5A262.0 262.0 0 0 1 580.0 261.5M577.7 257.5L585.9 252.7M580.0 261.5L588.3 256.9M571.1 273.8L585.5 266.3M584.4 264.3A264.6 264.6 0 0 1 586.6 268.4M584.4 264.3L590.5 261.0M586.6 268.4L592.7 265.2M425.6 375.3L557.6 352.0M551.3 326.2A210.0 210.0 0 0 1 560.2 372.0M551.3 326.2L556.1 324.7M546.0 298.5A215.0 215.0 0 0 1 562.7 352.0M546.0 298.5L555.1 294.3M553.0 289.9A225.0 225.0 0 0 1 557.1 298.8M553.0 289.9L594.8 269.5M557.1 298.8L565.6 295.1M563.2 289.6A234.2 234.2 0 0 1 567.9 300.6M563.2 289.6L596.9 273.9M567.9 300.6L576.5 297.1M573.4 289.7A243.5 243.5 0 0 1 579.4 304.5M573.4 289.7L599.0 278.4M579.4 304.5L588.0 301.3M585.0 293.3A252.8 252.8 0 0 1 590.9 309.4M585.0 293.3L587.7 292.2M586.4 289.0A255.8 255.8 0 0 1 589.0 295.4M586.4 289.0L600.9 282.9M589.0 295.4L597.8 292.0M596.9 289.8A265.2 265.2 0 0 1 598.6 294.3M596.9 289.8L602.8 287.4M598.6 294.3L604.6 292.0M590.9 309.4L599.6 306.5M598.1 302.1A262.0 262.0 0 0 1 601.1 311.1M598.1 302.1L599.0 301.7M598.2 299.5A262.9 262.9 0 0 1 599.8 304.0M598.2 299.5L606.3 296.6M599.8 304.0L607.9 301.2M600.4 308.8A262.0 262.0 0 0 1 601.8 313.3M600.4 308.8L609.4 305.9M601.8 313.3L610.9 310.6M562.7 352.0L577.5 349.4M576.0 341.9A230.0 230.0 0 0 1 578.6 357.0M576.0 341.9L591.7 338.7M590.1 331.3A246.0 246.0 0 0 1 593.1 346.0M590.1 331.3L605.6 327.6M604.0 321.3A262.0 262.0 0 0 1 607.1 334.0M599.2 318.9A258.0 258.0 0 0 1 601.0 325.7M599.2 318.9L612.2 315.3M601.0 325.7L606.9 324.2M606.3 321.9A264.0 264.0 0 0 1 607.5 326.6M606.3 321.9L613.5 320.0M607.5 326.6L614.7 324.8M607.1 334.0L608.2 333.7M607.7 331.4A263.2 263.2 0 0 1 608.7 336.0M607.7 331.4L615.8 329.6M608.7 336.0L616.9 334.4M593.1 346.0L612.0 342.7M611.6 340.4A265.2 265.2 0 0 1 612.4 345.1M611.6 340.4L617.8 339.2M612.4 345.1L618.6 344.0M578.6 357.0L611.4 352.5M611.0 350.1A263.0 263.0 0 0 1 611.7 354.8M611.0 350.1L619.4 348.9M611.7 354.8L620.1 353.8M560.2 372.0L605.0 368.5M604.3 360.4A255.0 255.0 0 0 1 605.5 376.5M604.3 360.4L620.7 358.6M605.5 376.5L607.5 376.4M607.2 370.6A257.0 257.0 0 0 1 607.7 382.2M606.9 367.2A257.0 257.0 0 0 1 607.4 374.1M606.9 367.2L615.0 366.5M614.8 364.1A265.1 265.1 0 0 1 615.2 368.9M614.8 364.1L621.1 363.5M615.2 368.9L621.6 368.4M607.4 374.1L621.9 373.3M607.6 378.8A257.0 257.0 0 0 1 607.8 385.7M607.6 378.8L622.1 378.2M607.8 385.7L614.6 385.7M614.5 383.3A263.8 263.8 0 0 1 614.6 388.0M614.5 383.3L622.2 383.1M614.6 388.0L622.3 388.0" fill="none" stroke="#006400" stroke-width="1.4" stroke-opacity="0.88"/>
<text x="0" y="0" font-size="26" fill="#000" text-anchor="middle" dominant-baseline="central" transform="translate(76.0 567.7) rotate(62)" letter-spacing="0.5">Cultivated</text>
<text x="0" y="0" font-size="20" fill="#fff" text-anchor="middle" dominant-baseline="central" transform="translate(589.8 557.6) rotate(-51)">Wild</text>
<text x="0" y="0" font-size="20" fill="#fff" text-anchor="middle" dominant-baseline="central" transform="translate(471.0 652.0) rotate(-24.5)">Semi-wild</text>
<text x="442" y="398.3" font-size="26" font-style="italic" letter-spacing="0.35" transform="rotate(10.4 442 398.3)" word-spacing="5">Prunus Persica</text>
<path d="M928.9 50V639H1372.5" fill="none" stroke="#383838" stroke-width="2.6" stroke-linejoin="round"/>
<path d="M977.3 639V646.5" stroke="#383838" stroke-width="2.6"/>
<text x="974.20" y="674.80" font-size="25.5" text-anchor="middle" letter-spacing="0.6">-0.05</text>
<path d="M1074.4 639V646.5" stroke="#383838" stroke-width="2.6"/>
<text x="1074.80" y="674.80" font-size="25.5" text-anchor="middle" letter-spacing="0.6">0.00</text>
<path d="M1171.5 639V646.5" stroke="#383838" stroke-width="2.6"/>
<text x="1175.70" y="674.80" font-size="25.5" text-anchor="middle" letter-spacing="0.6">0.05</text>
<path d="M1268.6 639V646.5" stroke="#383838" stroke-width="2.6"/>
<text x="1274.00" y="674.80" font-size="25.5" text-anchor="middle" letter-spacing="0.6">0.10</text>
<path d="M1365.7 639V646.5" stroke="#383838" stroke-width="2.6"/>
<text x="1366.85" y="674.80" font-size="25.5" text-anchor="middle" letter-spacing="0.6">0.15</text>
<path d="M920.8 69.6H928.9" stroke="#383838" stroke-width="2.6"/>
<text x="0" y="0" font-size="25.5" text-anchor="middle" dominant-baseline="central" letter-spacing="0.6" transform="translate(901.00 71.30) rotate(-90)">0.10</text>
<path d="M920.8 188.8H928.9" stroke="#383838" stroke-width="2.6"/>
<text x="0" y="0" font-size="25.5" text-anchor="middle" dominant-baseline="central" letter-spacing="0.6" transform="translate(901.00 190.40) rotate(-90)">0.05</text>
<path d="M920.8 308.0H928.9" stroke="#383838" stroke-width="2.6"/>
<text x="0" y="0" font-size="25.5" text-anchor="middle" dominant-baseline="central" letter-spacing="0.6" transform="translate(901.00 306.00) rotate(-90)">0.00</text>
<path d="M920.8 427.2H928.9" stroke="#383838" stroke-width="2.6"/>
<text x="0" y="0" font-size="25.5" text-anchor="middle" dominant-baseline="central" letter-spacing="0.6" transform="translate(901.00 430.20) rotate(-90)">-0.05</text>
<path d="M920.8 546.4H928.9" stroke="#383838" stroke-width="2.6"/>
<text x="0" y="0" font-size="25.5" text-anchor="middle" dominant-baseline="central" letter-spacing="0.6" transform="translate(901.00 542.80) rotate(-90)">-0.10</text>
<text x="1176.50" y="709.20" font-size="28.5" text-anchor="middle">PC1</text>
<text x="875.5" y="301" font-size="28.5" text-anchor="middle" transform="rotate(-90 875.5 301)">PC2</text>
<path d="M945.2 88.5L950.3 97.4L940.1 97.4ZM958.8 82.3L963.9 91.2L953.7 91.2ZM965.9 81.0L971.0 89.9L960.8 89.9ZM973.9 69.2L979.0 78.2L968.8 78.2ZM987.0 66.3L992.1 75.2L981.9 75.2ZM991.2 66.3L996.3 75.2L986.1 75.2ZM988.9 79.5L994.0 88.5L983.8 88.5ZM993.6 78.6L998.7 87.5L988.5 87.5ZM982.3 86.1L987.4 95.0L977.2 95.0ZM968.2 87.0L973.3 96.0L963.1 96.0ZM972.0 91.2L977.1 100.2L966.9 100.2ZM975.7 91.8L980.8 100.7L970.6 100.7ZM967.3 95.0L972.4 104.0L962.2 104.0ZM973.9 96.0L979.0 104.9L968.8 104.9ZM980.4 95.0L985.5 104.0L975.3 104.0ZM970.1 100.6L975.2 109.5L965.0 109.5ZM975.7 101.6L980.8 110.5L970.6 110.5ZM978.6 99.8L983.7 108.7L973.5 108.7ZM972.0 105.3L977.1 114.2L966.9 114.2ZM968.2 110.0L973.3 119.0L963.1 119.0ZM978.6 108.2L983.7 117.2L973.5 117.2ZM956.0 111.0L961.1 120.0L950.9 120.0ZM991.7 99.8L996.8 108.7L986.6 108.7ZM1001.1 97.0L1006.2 105.9L996.0 105.9ZM1010.0 96.0L1015.1 104.9L1004.9 104.9ZM1022.7 97.8L1027.8 106.8L1017.6 106.8ZM1028.8 85.6L1033.9 94.5L1023.7 94.5ZM1042.9 89.0L1048.0 97.9L1037.8 97.9ZM1032.1 105.0L1037.2 113.9L1027.0 113.9ZM992.2 111.0L997.3 120.0L987.1 120.0ZM998.8 115.8L1003.9 124.7L993.7 124.7ZM1009.1 132.2L1014.2 141.0L1004.0 141.0ZM1020.4 136.4L1025.5 145.2L1015.3 145.2ZM1029.3 128.5L1034.4 137.3L1024.2 137.3ZM1090.7 151.9L1095.8 160.8L1085.6 160.8ZM1112.8 160.2L1117.9 169.1L1107.7 169.1ZM1086.9 182.9L1092.0 191.8L1081.8 191.8ZM1073.3 189.5L1078.4 198.3L1068.2 198.3ZM978.0 357.4L983.1 366.2L972.9 366.2Z" fill="#8b0000"/>
<path d="M1063.1 203.1L1068.2 211.9L1058.0 211.9ZM997.3 150.9L1002.4 159.8L992.2 159.8ZM998.3 155.6L1003.4 164.4L993.2 164.4ZM999.2 158.9L1004.3 167.8L994.1 167.8ZM966.3 167.8L971.4 176.6L961.2 176.6ZM971.5 164.1L976.6 172.9L966.4 172.9ZM979.5 168.2L984.6 177.1L974.4 177.1ZM985.1 163.2L990.2 172.0L980.0 172.0ZM1036.3 158.5L1041.4 167.3L1031.2 167.3ZM979.5 180.1L984.6 188.9L974.4 188.9ZM986.1 177.7L991.2 186.5L981.0 186.5ZM1000.6 176.8L1005.7 185.6L995.5 185.6ZM1011.4 180.5L1016.5 189.3L1006.3 189.3ZM1031.2 176.8L1036.3 185.6L1026.1 185.6ZM980.4 186.6L985.5 195.4L975.3 195.4ZM990.8 187.6L995.9 196.4L985.7 196.4ZM1002.0 188.0L1007.1 196.8L996.9 196.8ZM1001.1 195.1L1006.2 203.9L996.0 203.9ZM988.9 194.2L994.0 203.0L983.8 203.0ZM1058.9 203.1L1064.0 211.9L1053.8 211.9ZM1107.1 189.5L1112.2 198.3L1102.0 198.3ZM1085.5 216.2L1090.6 225.0L1080.4 225.0ZM1081.8 240.2L1086.9 249.0L1076.7 249.0Z" fill="#0000ff"/>
<path d="M992.2 194.6L997.3 203.4L987.1 203.4ZM1010.0 193.2L1015.1 202.0L1004.9 202.0ZM981.8 212.9L986.9 221.8L976.7 221.8ZM1025.1 207.2L1030.2 216.1L1020.0 216.1ZM1006.7 214.8L1011.8 223.6L1001.6 223.6ZM1012.4 214.8L1017.5 223.6L1007.3 223.6ZM1013.3 218.6L1018.4 227.4L1008.2 227.4ZM1020.8 223.2L1025.9 232.1L1015.7 232.1ZM1022.7 228.9L1027.8 237.8L1017.6 237.8ZM1020.8 234.6L1025.9 243.4L1015.7 243.4ZM1019.9 240.2L1025.0 249.0L1014.8 249.0ZM1049.0 224.2L1054.1 233.0L1043.9 233.0ZM996.4 229.9L1001.5 238.8L991.3 238.8ZM1003.0 228.9L1008.1 237.8L997.9 237.8ZM999.2 233.6L1004.3 242.4L994.1 242.4ZM1004.9 234.6L1010.0 243.4L999.8 243.4ZM994.5 235.5L999.6 244.3L989.4 244.3ZM1101.0 234.6L1106.1 243.4L1095.9 243.4ZM1039.3 239.7L1044.4 248.5L1034.2 248.5ZM1045.4 240.7L1050.5 249.5L1040.3 249.5ZM1052.4 237.7L1057.5 246.5L1047.3 246.5ZM1055.4 240.7L1060.5 249.5L1050.3 249.5ZM1048.4 245.7L1053.5 254.5L1043.3 254.5ZM1052.4 247.7L1057.5 256.6L1047.3 256.6ZM1044.4 249.8L1049.5 258.6L1039.3 258.6ZM1035.3 253.8L1040.4 262.6L1030.2 262.6ZM1041.3 255.8L1046.4 264.6L1036.2 264.6ZM1048.4 257.8L1053.5 266.6L1043.3 266.6ZM1054.4 256.8L1059.5 265.6L1049.3 265.6ZM1059.5 255.8L1064.6 264.6L1054.4 264.6ZM1040.3 261.8L1045.4 270.6L1035.2 270.6ZM1046.4 261.8L1051.5 270.6L1041.3 270.6ZM1052.4 261.8L1057.5 270.6L1047.3 270.6ZM1058.5 261.8L1063.6 270.6L1053.4 270.6ZM1020.8 249.1L1025.9 257.9L1015.7 257.9ZM1023.2 272.9L1028.3 281.8L1018.1 281.8ZM1038.7 272.4L1043.8 281.3L1033.6 281.3ZM1036.8 279.1L1041.9 287.9L1031.7 287.9ZM1050.9 280.9L1056.0 289.8L1045.8 289.8ZM1054.7 285.7L1059.8 294.6L1049.6 294.6ZM1031.6 294.2L1036.7 303.1L1026.5 303.1ZM1046.2 298.9L1051.3 307.8L1041.1 307.8ZM1049.0 314.8L1054.1 323.6L1043.9 323.6ZM1055.6 316.7L1060.7 325.6L1050.5 325.6ZM1046.2 333.6L1051.3 342.4L1041.1 342.4ZM1042.4 341.6L1047.5 350.4L1037.3 350.4ZM1058.4 336.4L1063.5 345.2L1053.3 345.2ZM996.9 338.2L1002.0 347.1L991.8 347.1ZM1064.4 246.2L1069.5 255.0L1059.3 255.0ZM1094.5 247.2L1099.6 256.1L1089.4 256.1ZM1084.1 256.6L1089.2 265.4L1079.0 265.4ZM1085.1 267.8L1090.2 276.6L1080.0 276.6ZM1111.4 258.4L1116.5 267.3L1106.3 267.3ZM1132.0 260.8L1137.1 269.6L1126.9 269.6ZM1171.5 252.2L1176.6 261.1L1166.4 261.1ZM1184.7 260.8L1189.8 269.6L1179.6 269.6ZM1146.6 268.2L1151.7 277.1L1141.5 277.1ZM1129.2 275.8L1134.3 284.6L1124.1 284.6ZM1139.6 274.9L1144.7 283.8L1134.5 283.8ZM1100.6 276.8L1105.7 285.6L1095.5 285.6ZM1071.0 287.9L1076.1 296.8L1065.9 296.8ZM1082.2 289.4L1087.3 298.3L1077.1 298.3ZM1089.3 287.1L1094.4 295.9L1084.2 295.9ZM1107.1 288.4L1112.2 297.3L1102.0 297.3ZM1113.3 292.7L1118.4 301.6L1108.2 301.6ZM1128.3 297.9L1133.4 306.8L1123.2 306.8ZM1132.0 300.7L1137.1 309.6L1126.9 309.6ZM1134.9 304.4L1140.0 313.3L1129.8 313.3ZM1166.3 287.1L1171.4 295.9L1161.2 295.9ZM1170.1 296.4L1175.2 305.3L1165.0 305.3ZM1061.6 301.7L1066.7 310.6L1056.5 310.6ZM1081.3 302.1L1086.4 310.9L1076.2 310.9ZM1090.7 305.4L1095.8 314.2L1085.6 314.2ZM1106.2 303.1L1111.3 311.9L1101.1 311.9ZM1112.3 310.1L1117.4 318.9L1107.2 318.9ZM1119.8 311.9L1124.9 320.8L1114.7 320.8ZM1075.7 310.1L1080.8 318.9L1070.6 318.9ZM1067.2 313.9L1072.3 322.8L1062.1 322.8ZM1060.6 319.4L1065.7 328.3L1055.5 328.3ZM1094.5 314.4L1099.6 323.2L1089.4 323.2ZM1102.9 322.8L1108.0 331.6L1097.8 331.6ZM1115.1 326.9L1120.2 335.8L1110.0 335.8ZM1120.8 326.9L1125.9 335.8L1115.7 335.8ZM1126.4 326.1L1131.5 334.9L1121.3 334.9ZM1187.0 316.2L1192.1 325.1L1181.9 325.1ZM1068.2 328.9L1073.3 337.8L1063.1 337.8ZM1071.0 334.6L1076.1 343.4L1065.9 343.4ZM1079.9 333.1L1085.0 341.9L1074.8 341.9ZM1092.6 343.9L1097.7 352.8L1087.5 352.8ZM1208.0 269.9L1213.1 278.8L1202.9 278.8ZM1207.3 280.1L1212.4 288.9L1202.2 288.9ZM1220.7 291.6L1225.8 300.4L1215.6 300.4ZM1232.2 294.8L1237.3 303.6L1227.1 303.6ZM1206.7 309.4L1211.8 318.3L1201.6 318.3ZM1215.6 313.2L1220.7 322.1L1210.5 322.1ZM1199.7 320.9L1204.8 329.8L1194.6 329.8ZM1222.6 326.7L1227.7 335.6L1217.5 335.6ZM1236.0 328.6L1241.1 337.4L1230.9 337.4ZM1346.9 311.4L1352.0 320.2L1341.8 320.2ZM1352.0 310.7L1357.1 319.6L1346.9 319.6ZM1356.5 311.4L1361.6 320.2L1351.4 320.2ZM949.8 353.4L954.9 362.2L944.7 362.2ZM957.2 368.1L962.3 376.9L952.1 376.9ZM993.5 375.4L998.6 384.3L988.4 384.3ZM1006.2 374.8L1011.3 383.6L1001.1 383.6ZM1031.0 381.4L1036.1 390.3L1025.9 390.3ZM1049.8 360.7L1054.9 369.6L1044.7 369.6ZM1068.6 369.4L1073.7 378.3L1063.5 378.3ZM1111.6 355.9L1116.7 364.8L1106.5 364.8ZM968.0 395.6L973.1 404.4L962.9 404.4ZM986.7 404.4L991.8 413.2L981.6 413.2ZM1004.2 404.9L1009.3 413.8L999.1 413.8ZM1037.1 404.4L1042.2 413.2L1032.0 413.2ZM1019.0 415.1L1024.1 423.9L1013.9 423.9ZM1013.6 417.1L1018.7 425.9L1008.5 425.9ZM989.4 425.2L994.5 434.1L984.3 434.1ZM1008.2 429.2L1013.3 438.1L1003.1 438.1ZM1026.3 427.2L1031.4 436.1L1021.2 436.1ZM1027.0 437.9L1032.1 446.8L1021.9 446.8ZM1014.3 442.6L1019.4 451.4L1009.2 451.4ZM994.1 453.9L999.2 462.8L989.0 462.8ZM1014.9 455.9L1020.0 464.8L1009.8 464.8ZM1017.3 500.4L1022.4 509.3L1012.2 509.3ZM1031.4 517.3L1036.5 526.2L1026.3 526.2ZM1033.7 526.9L1038.8 535.9L1028.6 535.9ZM1008.3 531.9L1013.4 540.9L1003.2 540.9ZM982.4 552.8L987.5 561.8L977.3 561.8ZM997.1 553.3L1002.2 562.2L992.0 562.2ZM992.6 557.8L997.7 566.8L987.5 566.8ZM1003.8 551.6L1008.9 560.6L998.7 560.6ZM998.2 555.6L1003.3 564.6L993.1 564.6ZM991.4 562.3L996.5 571.2L986.3 571.2ZM998.2 566.3L1003.3 575.2L993.1 575.2ZM1008.9 571.9L1014.0 580.9L1003.8 580.9ZM986.4 589.4L991.5 598.4L981.3 598.4ZM994.2 588.8L999.3 597.8L989.1 597.8ZM994.8 591.6L999.9 600.6L989.7 600.6ZM984.7 596.1L989.8 605.1L979.6 605.1ZM985.8 599.5L990.9 608.5L980.7 608.5ZM982.4 604.0L987.5 613.0L977.3 613.0ZM983.6 607.4L988.7 616.4L978.5 616.4ZM981.3 610.8L986.4 619.8L976.2 619.8ZM980.2 613.0L985.3 622.0L975.1 622.0Z" fill="#006400"/>
<path d="M1336.8 64.7L1342.0 73.7L1331.5 73.7Z" fill="#8b0000"/>
<path d="M1338.0 97.1L1343.2 106.1L1332.8 106.1Z" fill="#0000ff"/>
<path d="M1338.2 129.7L1343.5 138.7L1333.0 138.7Z" fill="#006400"/>
<text x="1382.30" y="76.00" font-size="26" text-anchor="middle" letter-spacing="2.4">Wild</text>
<text x="1414.10" y="106.10" font-size="26" text-anchor="middle" letter-spacing="0.2">Semi-wild</text>
<text x="1416.70" y="142.10" font-size="26" text-anchor="middle" letter-spacing="0.4">Cultivated</text>
<path d="M152 1164H681" stroke="#505050" stroke-width="6.3" stroke-dasharray="19 6.4"/>
<path d="M143.4 1106.5L330.5 1017.7" stroke="#505050" stroke-width="6.3" stroke-dasharray="19 6.4"/>
<path d="M466 1011L679 1087" stroke="#505050" stroke-width="6.3" stroke-dasharray="19 6.4"/>
<circle cx="85.4" cy="1145" r="67.2" fill="#993300"/>
<circle cx="398" cy="1003" r="67.3" fill="#0000ff"/>
<circle cx="737.6" cy="1124.1" r="67.2" fill="#008000"/>
<text x="22.0" y="1153.3" font-size="26" fill="#fff">1.65</text><path d="M77.4 1136.8L94.8 1151.8M94.8 1136.8L77.4 1151.8" stroke="#fff" stroke-width="1.4"/><text x="98.5" y="1153.3" font-size="26" fill="#fff">10</text><text x="128.4" y="1145.8" font-size="16" fill="#fff">-3</text>
<text x="337.1" y="1006.7" font-size="26" fill="#fff">1.62</text><path d="M392.5 990.2L409.9 1005.2M409.9 990.2L392.5 1005.2" stroke="#fff" stroke-width="1.4"/><text x="413.6" y="1006.7" font-size="26" fill="#fff">10</text><text x="443.5" y="999.2" font-size="16" fill="#fff">-3</text>
<text x="674.6" y="1130.1" font-size="26" fill="#fff">1.55</text><path d="M730.0 1113.6L747.4 1128.6M747.4 1113.6L730.0 1128.6" stroke="#fff" stroke-width="1.4"/><text x="751.1" y="1130.1" font-size="26" fill="#fff">10</text><text x="781.0" y="1122.6" font-size="16" fill="#fff">-3</text>
<text x="85.40" y="1066.60" font-size="26" text-anchor="middle" letter-spacing="1.7">Wild</text>
<text x="404.20" y="923.40" font-size="26" text-anchor="middle" letter-spacing="0.35">Semi-wild</text>
<text x="745.90" y="1044.80" font-size="26" text-anchor="middle" letter-spacing="0.8">Cultivated</text>
<text x="422.70" y="1141.80" font-size="26" text-anchor="middle" letter-spacing="0.1">0.0989</text>
<text x="0" y="0" font-size="26" text-anchor="middle" dominant-baseline="central" letter-spacing="0.3" transform="translate(222.3 1037.1) rotate(-26.5)">0.0346</text>
<text x="0" y="0" font-size="26" text-anchor="middle" dominant-baseline="central" letter-spacing="0.3" transform="translate(599.8 1031.2) rotate(20.5)">0.0459</text>
<path d="M930.5 850.7V1345.7H1463.6" fill="none" stroke="#000" stroke-width="3"/>
<path d="M920 1345.7H930.5" stroke="#000" stroke-width="3"/>
<text x="0" y="0" font-size="26" text-anchor="middle" dominant-baseline="central" letter-spacing="0.3" transform="translate(898.80 1346.60) rotate(-90)">0</text>
<path d="M920 1246.7H930.5" stroke="#000" stroke-width="3"/>
<text x="0" y="0" font-size="26" text-anchor="middle" dominant-baseline="central" letter-spacing="0.3" transform="translate(898.80 1246.30) rotate(-90)">0.1</text>
<path d="M920 1147.7H930.5" stroke="#000" stroke-width="3"/>
<text x="0" y="0" font-size="26" text-anchor="middle" dominant-baseline="central" letter-spacing="0.3" transform="translate(898.80 1153.10) rotate(-90)">0.2</text>
<path d="M920 1048.7H930.5" stroke="#000" stroke-width="3"/>
<text x="0" y="0" font-size="26" text-anchor="middle" dominant-baseline="central" letter-spacing="0.3" transform="translate(898.80 1045.00) rotate(-90)">0.3</text>
<path d="M920 949.7H930.5" stroke="#000" stroke-width="3"/>
<text x="0" y="0" font-size="26" text-anchor="middle" dominant-baseline="central" letter-spacing="0.3" transform="translate(898.80 947.80) rotate(-90)">0.4</text>
<path d="M920 850.7H930.5" stroke="#000" stroke-width="3"/>
<text x="0" y="0" font-size="26" text-anchor="middle" dominant-baseline="central" letter-spacing="0.3" transform="translate(898.80 853.30) rotate(-90)">0.5</text>
<path d="M930.5 1345.7V1355.4" stroke="#000" stroke-width="3"/>
<text x="927.40" y="1385.00" font-size="26" text-anchor="middle" letter-spacing="0.3">0</text>
<path d="M1037.1 1345.7V1355.4" stroke="#000" stroke-width="3"/>
<text x="1032.80" y="1385.00" font-size="26" text-anchor="middle" letter-spacing="0.3">100</text>
<path d="M1143.7 1345.7V1355.4" stroke="#000" stroke-width="3"/>
<text x="1138.10" y="1385.00" font-size="26" text-anchor="middle" letter-spacing="0.3">200</text>
<path d="M1250.4 1345.7V1355.4" stroke="#000" stroke-width="3"/>
<text x="1252.40" y="1385.00" font-size="26" text-anchor="middle" letter-spacing="0.3">300</text>
<path d="M1357.0 1345.7V1355.4" stroke="#000" stroke-width="3"/>
<text x="1351.90" y="1385.00" font-size="26" text-anchor="middle" letter-spacing="0.3">400</text>
<path d="M1463.6 1345.7V1355.4" stroke="#000" stroke-width="3"/>
<text x="1465.30" y="1385.00" font-size="26" text-anchor="middle" letter-spacing="0.3">500</text>
<text x="1247.40" y="1414.60" font-size="26" text-anchor="middle" letter-spacing="0.3">Pairwise distance (kb)</text>
<text x="0" y="0" font-size="28" font-style="italic" transform="translate(860 1098.5) rotate(-90)">r<tspan font-size="21" dy="-10" dx="1" font-style="normal">2</tspan></text>
<text x="1144.30" y="863.20" font-size="26" text-anchor="middle" letter-spacing="0.1">LD Decay</text>
<polyline points="931.1,1023.8 931.6,1030.1 932.0,1036.1 932.4,1041.7 932.8,1047.0 933.3,1052.0 933.7,1056.7 934.1,1061.2 934.5,1065.5 934.9,1069.6 935.4,1073.5 935.8,1077.2 936.2,1080.7 936.6,1084.1 937.0,1087.4 937.5,1090.6 937.9,1093.6 938.3,1096.5 938.7,1099.3 939.2,1102.0 939.6,1104.6 940.0,1107.1 940.4,1109.6 940.8,1111.9 941.3,1114.2 941.7,1116.4 942.1,1118.6 942.5,1120.7 943.0,1122.7 943.4,1124.6 943.8,1126.5 944.2,1128.4 944.6,1130.2 945.1,1132.0 945.5,1133.7 945.9,1135.3 946.3,1137.0 946.8,1138.6 947.2,1140.1 947.6,1141.6 948.0,1143.1 948.4,1144.5 948.9,1145.9 949.3,1147.3 949.7,1148.7 950.1,1150.0 950.6,1151.3 951.0,1152.5 951.4,1153.8 951.8,1155.0 952.7,1157.4 954.4,1161.8 956.1,1166.0 957.8,1169.8 959.5,1173.4 961.2,1176.8 962.9,1180.0 964.6,1183.0 966.3,1185.8 968.1,1188.4 969.8,1191.1 971.5,1193.3 973.2,1196.2 974.9,1197.7 976.6,1199.9 978.3,1202.2 980.0,1203.5 981.7,1205.4 983.4,1207.3 985.1,1208.9 986.9,1210.3 988.6,1212.1 990.3,1213.5 992.0,1215.2 993.7,1216.0 995.4,1217.6 997.1,1219.4 998.8,1220.8 1000.5,1221.2 1002.2,1222.9 1003.9,1223.6 1005.6,1224.8 1007.4,1225.9 1009.1,1227.0 1010.8,1228.4 1012.5,1229.3 1014.2,1230.1 1015.9,1230.9 1017.6,1231.9 1019.3,1232.8 1021.0,1233.9 1022.7,1234.4 1024.4,1235.4 1026.2,1236.1 1027.9,1236.9 1029.6,1237.8 1031.3,1238.5 1033.0,1239.5 1034.7,1239.9 1036.4,1241.0 1038.1,1241.2 1039.8,1241.9 1041.5,1242.7 1043.2,1243.4 1045.0,1244.0 1046.7,1244.9 1048.4,1245.4 1050.1,1245.9 1051.8,1246.2 1053.5,1246.9 1055.2,1247.8 1056.9,1248.1 1058.6,1248.2 1060.3,1248.9 1062.0,1249.5 1063.7,1250.4 1065.5,1250.6 1067.2,1251.7 1068.9,1251.8 1070.6,1252.1 1072.3,1252.4 1074.0,1253.3 1075.7,1253.4 1077.4,1253.7 1079.1,1254.5 1080.8,1254.8 1082.5,1255.5 1084.3,1255.6 1086.0,1255.3 1087.7,1256.7 1089.4,1256.4 1091.1,1257.7 1092.8,1258.1 1094.5,1257.9 1096.2,1258.1 1097.9,1258.4 1099.6,1259.4 1101.3,1259.5 1103.0,1259.7 1104.8,1260.2 1106.5,1261.1 1108.2,1261.0 1109.9,1261.5 1111.6,1261.8 1113.3,1262.2 1115.0,1262.5 1116.7,1262.4 1118.4,1262.9 1120.1,1263.0 1121.8,1263.4 1123.6,1264.1 1125.3,1264.0 1127.0,1264.4 1128.7,1264.6 1130.4,1264.9 1132.1,1265.5 1133.8,1265.5 1135.5,1265.8 1137.2,1266.3 1138.9,1266.6 1140.6,1266.9 1142.4,1267.0 1144.1,1266.8 1145.8,1267.7 1147.5,1267.9 1149.2,1268.3 1150.9,1268.1 1152.6,1269.2 1154.3,1268.5 1156.0,1269.2 1157.7,1269.3 1159.4,1269.4 1161.1,1270.0 1162.9,1270.0 1164.6,1269.7 1166.3,1270.2 1168.0,1270.8 1169.7,1271.5 1171.4,1270.8 1173.1,1271.4 1174.8,1272.0 1176.5,1272.0 1178.2,1272.0 1179.9,1271.9 1181.7,1272.0 1183.4,1272.5 1185.1,1272.8 1186.8,1272.5 1188.5,1272.9 1190.2,1273.6 1191.9,1273.6 1193.6,1273.7 1195.3,1274.0 1197.0,1274.1 1198.7,1274.7 1200.4,1275.1 1202.2,1275.4 1203.9,1275.3 1205.6,1275.4 1207.3,1275.8 1209.0,1276.1 1210.7,1276.2 1212.4,1276.3 1214.1,1276.0 1215.8,1276.0 1217.5,1276.7 1219.2,1276.7 1221.0,1276.9 1222.7,1276.8 1224.4,1276.9 1226.1,1277.7 1227.8,1277.7 1229.5,1277.5 1231.2,1278.0 1232.9,1278.1 1234.6,1278.3 1236.3,1278.9 1238.0,1278.5 1239.8,1278.4 1241.5,1278.9 1243.2,1278.8 1244.9,1279.3 1246.6,1279.4 1248.3,1279.6 1250.0,1279.5 1251.7,1279.9 1253.4,1279.8 1255.1,1280.2 1256.8,1280.1 1258.5,1280.1 1260.3,1280.6 1262.0,1280.5 1263.7,1281.2 1265.4,1281.0 1267.1,1281.2 1268.8,1281.2 1270.5,1281.3 1272.2,1280.9 1273.9,1281.9 1275.6,1281.6 1277.3,1282.1 1279.1,1281.9 1280.8,1282.1 1282.5,1282.2 1284.2,1282.2 1285.9,1282.5 1287.6,1282.8 1289.3,1282.7 1291.0,1282.6 1292.7,1282.9 1294.4,1283.3 1296.1,1283.6 1297.8,1283.7 1299.6,1283.6 1301.3,1283.4 1303.0,1284.0 1304.7,1283.9 1306.4,1284.0 1308.1,1284.4 1309.8,1284.4 1311.5,1284.5 1313.2,1284.2 1314.9,1284.5 1316.6,1284.3 1318.4,1284.9 1320.1,1285.0 1321.8,1285.3 1323.5,1285.3 1325.2,1285.2 1326.9,1286.0 1328.6,1285.3 1330.3,1285.3 1332.0,1285.6 1333.7,1286.0 1335.4,1285.9 1337.2,1286.0 1338.9,1285.9 1340.6,1286.7 1342.3,1286.3 1344.0,1286.2 1345.7,1286.6 1347.4,1286.5 1349.1,1286.8 1350.8,1287.3 1352.5,1286.9 1354.2,1287.1 1355.9,1287.1 1357.7,1287.3 1359.4,1287.6 1361.1,1287.7 1362.8,1287.5 1364.5,1287.5 1366.2,1287.8 1367.9,1288.1 1369.6,1288.0 1371.3,1288.1 1373.0,1287.8 1374.7,1288.6 1376.5,1288.0 1378.2,1288.2 1379.9,1288.5 1381.6,1288.7 1383.3,1288.8 1385.0,1288.7 1386.7,1288.9 1388.4,1288.9 1390.1,1288.7 1391.8,1289.2 1393.5,1289.1 1395.2,1289.5 1397.0,1289.5 1398.7,1289.8 1400.4,1289.8 1402.1,1290.0 1403.8,1290.1 1405.5,1290.1 1407.2,1290.0 1408.9,1290.4 1410.6,1290.0 1412.3,1290.3 1414.0,1290.6 1415.8,1290.4 1417.5,1290.7 1419.2,1290.4 1420.9,1290.6 1422.6,1290.9 1424.3,1291.0 1426.0,1291.2 1427.7,1291.0 1429.4,1291.2 1431.1,1291.3 1432.8,1291.4 1434.6,1291.0 1436.3,1291.3 1438.0,1291.9 1439.7,1291.3 1441.4,1291.8 1443.1,1291.6 1444.8,1292.1 1446.5,1291.7 1448.2,1292.0 1449.9,1291.5 1451.6,1292.1 1453.3,1292.4 1455.1,1291.9 1456.8,1292.6 1458.5,1292.2 1460.2,1292.5 1461.9,1291.9 1463.6,1292.9" fill="none" stroke="#8b0000" stroke-width="3.2" stroke-linejoin="round"/>
<polyline points="931.1,1006.2 931.6,1010.6 932.0,1014.8 932.4,1018.8 932.8,1022.6 933.3,1026.3 933.7,1029.8 934.1,1033.1 934.5,1036.4 934.9,1039.5 935.4,1042.5 935.8,1045.4 936.2,1048.2 936.6,1050.9 937.0,1053.5 937.5,1056.0 937.9,1058.4 938.3,1060.8 938.7,1063.1 939.2,1065.3 939.6,1067.4 940.0,1069.5 940.4,1071.5 940.8,1073.5 941.3,1075.4 941.7,1077.3 942.1,1079.1 942.5,1080.9 943.0,1082.6 943.4,1084.3 943.8,1085.9 944.2,1087.5 944.6,1089.1 945.1,1090.6 945.5,1092.1 945.9,1093.5 946.3,1095.0 946.8,1096.3 947.2,1097.7 947.6,1099.0 948.0,1100.3 948.4,1101.6 948.9,1102.8 949.3,1104.1 949.7,1105.3 950.1,1106.4 950.6,1107.6 951.0,1108.7 951.4,1109.8 951.8,1110.9 952.7,1113.0 954.4,1117.0 956.1,1120.8 957.8,1124.3 959.5,1127.6 961.2,1130.7 962.9,1133.6 964.6,1136.3 966.3,1138.9 968.1,1141.4 969.8,1143.5 971.5,1145.8 973.2,1147.7 974.9,1149.8 976.6,1152.3 978.3,1153.7 980.0,1155.8 981.7,1157.3 983.4,1159.0 985.1,1160.4 986.9,1162.1 988.6,1164.1 990.3,1165.0 992.0,1166.3 993.7,1167.4 995.4,1169.0 997.1,1170.3 998.8,1170.7 1000.5,1171.9 1002.2,1173.9 1003.9,1174.6 1005.6,1175.5 1007.4,1176.6 1009.1,1177.8 1010.8,1178.6 1012.5,1179.3 1014.2,1180.8 1015.9,1181.1 1017.6,1181.8 1019.3,1182.7 1021.0,1183.6 1022.7,1184.3 1024.4,1185.1 1026.2,1186.0 1027.9,1185.9 1029.6,1187.2 1031.3,1188.3 1033.0,1188.9 1034.7,1189.3 1036.4,1190.0 1038.1,1191.0 1039.8,1191.3 1041.5,1191.9 1043.2,1193.1 1045.0,1193.1 1046.7,1193.9 1048.4,1194.3 1050.1,1194.9 1051.8,1195.2 1053.5,1195.7 1055.2,1196.8 1056.9,1196.7 1058.6,1197.6 1060.3,1197.7 1062.0,1198.4 1063.7,1198.9 1065.5,1199.0 1067.2,1200.2 1068.9,1200.3 1070.6,1201.1 1072.3,1201.0 1074.0,1201.9 1075.7,1202.7 1077.4,1202.5 1079.1,1202.7 1080.8,1203.4 1082.5,1203.7 1084.3,1204.0 1086.0,1204.4 1087.7,1204.7 1089.4,1205.3 1091.1,1205.5 1092.8,1205.7 1094.5,1206.5 1096.2,1206.6 1097.9,1207.7 1099.6,1207.3 1101.3,1207.5 1103.0,1207.9 1104.8,1208.4 1106.5,1208.5 1108.2,1208.6 1109.9,1209.7 1111.6,1209.3 1113.3,1210.3 1115.0,1210.2 1116.7,1210.2 1118.4,1211.2 1120.1,1211.0 1121.8,1211.1 1123.6,1211.7 1125.3,1212.2 1127.0,1212.4 1128.7,1212.7 1130.4,1213.2 1132.1,1213.1 1133.8,1213.4 1135.5,1213.5 1137.2,1213.4 1138.9,1214.0 1140.6,1214.7 1142.4,1214.1 1144.1,1215.1 1145.8,1215.1 1147.5,1215.0 1149.2,1215.5 1150.9,1216.2 1152.6,1215.8 1154.3,1216.4 1156.0,1216.7 1157.7,1216.4 1159.4,1217.0 1161.1,1217.2 1162.9,1217.2 1164.6,1217.7 1166.3,1217.6 1168.0,1217.8 1169.7,1217.8 1171.4,1218.4 1173.1,1218.4 1174.8,1218.6 1176.5,1218.6 1178.2,1218.8 1179.9,1219.1 1181.7,1219.7 1183.4,1219.5 1185.1,1220.2 1186.8,1220.2 1188.5,1220.3 1190.2,1220.1 1191.9,1221.1 1193.6,1220.4 1195.3,1221.1 1197.0,1221.6 1198.7,1221.3 1200.4,1221.3 1202.2,1221.7 1203.9,1222.1 1205.6,1222.4 1207.3,1222.3 1209.0,1222.1 1210.7,1222.3 1212.4,1222.7 1214.1,1222.5 1215.8,1222.9 1217.5,1223.7 1219.2,1223.1 1221.0,1223.8 1222.7,1223.4 1224.4,1223.7 1226.1,1223.9 1227.8,1223.7 1229.5,1224.2 1231.2,1224.7 1232.9,1224.7 1234.6,1224.9 1236.3,1224.6 1238.0,1224.9 1239.8,1225.2 1241.5,1225.4 1243.2,1225.7 1244.9,1225.3 1246.6,1226.1 1248.3,1225.7 1250.0,1225.9 1251.7,1225.8 1253.4,1226.2 1255.1,1226.3 1256.8,1226.2 1258.5,1226.5 1260.3,1226.8 1262.0,1226.8 1263.7,1227.2 1265.4,1226.9 1267.1,1227.5 1268.8,1227.3 1270.5,1227.6 1272.2,1227.1 1273.9,1227.8 1275.6,1227.8 1277.3,1228.2 1279.1,1227.8 1280.8,1228.6 1282.5,1228.1 1284.2,1228.8 1285.9,1228.7 1287.6,1228.5 1289.3,1229.3 1291.0,1228.6 1292.7,1229.0 1294.4,1229.2 1296.1,1229.4 1297.8,1229.4 1299.6,1229.7 1301.3,1229.7 1303.0,1229.7 1304.7,1229.6 1306.4,1229.8 1308.1,1230.2 1309.8,1229.8 1311.5,1230.2 1313.2,1229.8 1314.9,1230.2 1316.6,1230.1 1318.4,1230.9 1320.1,1230.3 1321.8,1230.8 1323.5,1231.1 1325.2,1231.2 1326.9,1231.3 1328.6,1231.5 1330.3,1231.4 1332.0,1231.6 1333.7,1231.5 1335.4,1231.6 1337.2,1231.3 1338.9,1231.8 1340.6,1232.2 1342.3,1231.8 1344.0,1231.8 1345.7,1232.2 1347.4,1232.5 1349.1,1232.7 1350.8,1232.1 1352.5,1232.6 1354.2,1232.5 1355.9,1232.8 1357.7,1232.2 1359.4,1233.1 1361.1,1232.9 1362.8,1233.1 1364.5,1233.1 1366.2,1233.0 1367.9,1233.4 1369.6,1233.3 1371.3,1233.3 1373.0,1233.7 1374.7,1233.6 1376.5,1233.6 1378.2,1234.1 1379.9,1233.8 1381.6,1234.0 1383.3,1234.2 1385.0,1234.4 1386.7,1234.5 1388.4,1234.7 1390.1,1234.4 1391.8,1234.3 1393.5,1235.0 1395.2,1235.0 1397.0,1234.6 1398.7,1234.9 1400.4,1234.8 1402.1,1234.5 1403.8,1235.3 1405.5,1235.2 1407.2,1235.2 1408.9,1235.7 1410.6,1235.7 1412.3,1235.2 1414.0,1235.2 1415.8,1235.0 1417.5,1235.6 1419.2,1235.6 1420.9,1235.8 1422.6,1235.8 1424.3,1235.7 1426.0,1235.9 1427.7,1235.6 1429.4,1236.4 1431.1,1236.0 1432.8,1236.4 1434.6,1236.1 1436.3,1236.4 1438.0,1236.6 1439.7,1236.4 1441.4,1236.4 1443.1,1237.2 1444.8,1236.7 1446.5,1236.9 1448.2,1236.8 1449.9,1236.7 1451.6,1237.3 1453.3,1237.1 1455.1,1237.2 1456.8,1236.6 1458.5,1237.3 1460.2,1237.5 1461.9,1237.4 1463.6,1237.4" fill="none" stroke="#0000ff" stroke-width="3.2" stroke-linejoin="round"/>
<polyline points="931.1,1008.4 931.6,1013.2 932.0,1017.8 932.4,1022.2 932.8,1026.3 933.3,1030.2 933.7,1033.9 934.1,1037.5 934.5,1040.9 934.9,1044.1 935.4,1047.3 935.8,1050.3 936.2,1053.1 936.6,1055.9 937.0,1058.6 937.5,1061.2 937.9,1063.6 938.3,1066.0 938.7,1068.4 939.2,1070.6 939.6,1072.8 940.0,1074.9 940.4,1076.9 940.8,1078.9 941.3,1080.8 941.7,1082.7 942.1,1084.5 942.5,1086.3 943.0,1088.0 943.4,1089.7 943.8,1091.3 944.2,1092.9 944.6,1094.5 945.1,1096.0 945.5,1097.5 945.9,1098.9 946.3,1100.3 946.8,1101.7 947.2,1103.0 947.6,1104.4 948.0,1105.7 948.4,1106.9 948.9,1108.2 949.3,1109.4 949.7,1110.6 950.1,1111.7 950.6,1112.9 951.0,1114.0 951.4,1115.1 951.8,1116.2 952.7,1118.3 954.4,1122.3 956.1,1126.0 957.8,1129.5 959.5,1132.8 961.2,1135.9 962.9,1138.9 964.6,1141.6 966.3,1144.3 968.1,1146.7 969.8,1149.4 971.5,1151.5 973.2,1153.7 974.9,1155.9 976.6,1157.9 978.3,1159.2 980.0,1161.4 981.7,1162.9 983.4,1164.3 985.1,1166.5 986.9,1167.5 988.6,1169.4 990.3,1170.3 992.0,1172.1 993.7,1173.6 995.4,1175.1 997.1,1176.2 998.8,1177.4 1000.5,1178.6 1002.2,1180.4 1003.9,1181.1 1005.6,1182.3 1007.4,1183.8 1009.1,1184.0 1010.8,1184.9 1012.5,1186.2 1014.2,1187.4 1015.9,1188.1 1017.6,1189.3 1019.3,1190.2 1021.0,1190.8 1022.7,1192.0 1024.4,1192.5 1026.2,1193.9 1027.9,1194.6 1029.6,1195.8 1031.3,1196.3 1033.0,1196.8 1034.7,1197.7 1036.4,1198.4 1038.1,1198.9 1039.8,1199.4 1041.5,1200.7 1043.2,1201.5 1045.0,1201.7 1046.7,1202.4 1048.4,1203.0 1050.1,1204.0 1051.8,1204.6 1053.5,1204.7 1055.2,1205.4 1056.9,1206.0 1058.6,1206.8 1060.3,1207.5 1062.0,1208.1 1063.7,1208.3 1065.5,1208.7 1067.2,1209.6 1068.9,1210.1 1070.6,1210.4 1072.3,1211.0 1074.0,1211.6 1075.7,1212.2 1077.4,1212.5 1079.1,1213.1 1080.8,1213.5 1082.5,1213.7 1084.3,1214.5 1086.0,1214.8 1087.7,1215.5 1089.4,1215.4 1091.1,1215.9 1092.8,1216.6 1094.5,1216.5 1096.2,1217.4 1097.9,1217.7 1099.6,1218.1 1101.3,1218.5 1103.0,1218.5 1104.8,1219.4 1106.5,1219.8 1108.2,1220.4 1109.9,1220.9 1111.6,1221.0 1113.3,1221.5 1115.0,1221.0 1116.7,1222.1 1118.4,1222.6 1120.1,1222.9 1121.8,1223.1 1123.6,1223.3 1125.3,1223.7 1127.0,1224.1 1128.7,1224.5 1130.4,1224.9 1132.1,1225.0 1133.8,1225.1 1135.5,1226.2 1137.2,1225.8 1138.9,1225.7 1140.6,1227.0 1142.4,1227.2 1144.1,1227.3 1145.8,1227.8 1147.5,1227.9 1149.2,1227.9 1150.9,1228.4 1152.6,1228.4 1154.3,1228.8 1156.0,1229.0 1157.7,1229.6 1159.4,1230.1 1161.1,1229.9 1162.9,1230.5 1164.6,1230.1 1166.3,1230.6 1168.0,1231.3 1169.7,1231.7 1171.4,1231.9 1173.1,1232.2 1174.8,1231.8 1176.5,1232.3 1178.2,1232.0 1179.9,1232.9 1181.7,1233.2 1183.4,1233.3 1185.1,1233.4 1186.8,1234.0 1188.5,1234.3 1190.2,1234.4 1191.9,1234.4 1193.6,1234.8 1195.3,1235.1 1197.0,1235.3 1198.7,1235.7 1200.4,1235.7 1202.2,1235.6 1203.9,1236.1 1205.6,1236.5 1207.3,1236.5 1209.0,1236.9 1210.7,1236.9 1212.4,1237.6 1214.1,1237.5 1215.8,1237.7 1217.5,1238.0 1219.2,1238.3 1221.0,1238.3 1222.7,1238.7 1224.4,1238.8 1226.1,1238.9 1227.8,1239.1 1229.5,1239.0 1231.2,1239.5 1232.9,1239.7 1234.6,1239.6 1236.3,1240.4 1238.0,1240.2 1239.8,1240.1 1241.5,1240.5 1243.2,1240.8 1244.9,1240.9 1246.6,1240.9 1248.3,1241.3 1250.0,1241.1 1251.7,1241.6 1253.4,1241.9 1255.1,1241.8 1256.8,1242.3 1258.5,1242.6 1260.3,1242.4 1262.0,1242.1 1263.7,1243.1 1265.4,1243.4 1267.1,1242.8 1268.8,1243.4 1270.5,1243.6 1272.2,1243.3 1273.9,1243.7 1275.6,1244.3 1277.3,1244.2 1279.1,1244.4 1280.8,1244.8 1282.5,1244.5 1284.2,1244.4 1285.9,1245.3 1287.6,1244.9 1289.3,1245.3 1291.0,1245.7 1292.7,1245.7 1294.4,1245.8 1296.1,1245.7 1297.8,1246.2 1299.6,1246.7 1301.3,1246.2 1303.0,1246.2 1304.7,1246.7 1306.4,1246.6 1308.1,1247.0 1309.8,1247.1 1311.5,1247.3 1313.2,1247.4 1314.9,1247.6 1316.6,1247.9 1318.4,1247.5 1320.1,1247.9 1321.8,1248.1 1323.5,1247.9 1325.2,1248.1 1326.9,1248.4 1328.6,1248.4 1330.3,1249.0 1332.0,1248.9 1333.7,1249.7 1335.4,1249.0 1337.2,1249.2 1338.9,1249.9 1340.6,1249.4 1342.3,1250.2 1344.0,1249.0 1345.7,1249.7 1347.4,1250.4 1349.1,1250.5 1350.8,1250.4 1352.5,1250.2 1354.2,1250.5 1355.9,1250.8 1357.7,1250.8 1359.4,1251.1 1361.1,1250.8 1362.8,1251.3 1364.5,1251.6 1366.2,1252.1 1367.9,1251.7 1369.6,1251.8 1371.3,1251.5 1373.0,1251.5 1374.7,1251.4 1376.5,1252.2 1378.2,1252.7 1379.9,1252.3 1381.6,1251.8 1383.3,1252.6 1385.0,1252.6 1386.7,1252.6 1388.4,1253.3 1390.1,1253.3 1391.8,1253.4 1393.5,1253.0 1395.2,1253.4 1397.0,1253.1 1398.7,1253.8 1400.4,1253.3 1402.1,1254.0 1403.8,1253.9 1405.5,1254.0 1407.2,1253.7 1408.9,1254.3 1410.6,1253.8 1412.3,1254.0 1414.0,1254.2 1415.8,1255.1 1417.5,1254.7 1419.2,1254.6 1420.9,1255.0 1422.6,1255.6 1424.3,1255.0 1426.0,1254.9 1427.7,1255.0 1429.4,1255.4 1431.1,1255.9 1432.8,1255.5 1434.6,1255.6 1436.3,1255.5 1438.0,1255.6 1439.7,1256.2 1441.4,1256.1 1443.1,1256.3 1444.8,1255.9 1446.5,1256.5 1448.2,1256.5 1449.9,1256.9 1451.6,1256.9 1453.3,1256.7 1455.1,1256.9 1456.8,1257.0 1458.5,1257.0 1460.2,1256.9 1461.9,1257.4 1463.6,1257.8" fill="none" stroke="#000000" stroke-width="3.2" stroke-linejoin="round"/>
<polyline points="930.5,903.0 930.9,914.6 931.4,924.8 931.8,933.9 932.2,942.2 932.7,949.7 933.1,956.6 933.5,963.0 934.0,968.8 934.4,974.3 934.9,979.4 935.3,984.2 935.7,988.7 936.2,992.9 936.6,996.9 937.0,1000.7 937.5,1004.3 937.9,1007.8 938.3,1011.0 938.8,1014.2 939.2,1017.2 939.6,1020.0 940.1,1022.8 940.5,1025.4 940.9,1028.0 941.4,1030.4 941.8,1032.8 942.2,1035.1 942.7,1037.3 943.1,1039.4 943.6,1041.5 944.0,1043.4 944.4,1045.4 944.9,1047.3 945.3,1049.1 945.7,1050.9 946.2,1052.6 946.6,1054.3 947.0,1055.9 947.5,1057.5 947.9,1059.0 948.3,1060.5 948.8,1062.0 949.2,1063.4 949.6,1064.8 950.1,1066.2 950.5,1067.5 951.0,1068.9 951.4,1070.1 951.8,1071.4 952.7,1073.8 954.4,1078.2 956.1,1082.4 957.8,1086.3 959.5,1089.9 961.2,1093.3 962.9,1096.4 964.6,1099.4 966.3,1102.3 968.1,1105.0 969.8,1107.5 971.5,1110.4 973.2,1112.2 974.9,1114.4 976.6,1116.6 978.3,1118.6 980.0,1120.9 981.7,1122.8 983.4,1123.7 985.1,1126.2 986.9,1127.8 988.6,1129.8 990.3,1130.7 992.0,1132.4 993.7,1134.2 995.4,1135.5 997.1,1137.0 998.8,1137.8 1000.5,1139.1 1002.2,1140.7 1003.9,1141.4 1005.6,1143.1 1007.4,1144.3 1009.1,1145.3 1010.8,1146.0 1012.5,1147.2 1014.2,1148.4 1015.9,1149.6 1017.6,1150.5 1019.3,1151.3 1021.0,1151.9 1022.7,1152.8 1024.4,1154.0 1026.2,1154.8 1027.9,1155.8 1029.6,1156.5 1031.3,1157.6 1033.0,1158.3 1034.7,1159.3 1036.4,1160.0 1038.1,1161.0 1039.8,1161.3 1041.5,1162.1 1043.2,1162.8 1045.0,1163.8 1046.7,1164.6 1048.4,1165.4 1050.1,1165.9 1051.8,1166.5 1053.5,1167.3 1055.2,1167.8 1056.9,1168.2 1058.6,1169.2 1060.3,1169.6 1062.0,1169.9 1063.7,1170.8 1065.5,1171.2 1067.2,1172.0 1068.9,1172.4 1070.6,1173.1 1072.3,1173.6 1074.0,1174.2 1075.7,1174.9 1077.4,1175.4 1079.1,1175.8 1080.8,1176.6 1082.5,1176.5 1084.3,1177.4 1086.0,1178.1 1087.7,1178.5 1089.4,1179.1 1091.1,1179.0 1092.8,1180.0 1094.5,1180.0 1096.2,1180.9 1097.9,1181.2 1099.6,1181.8 1101.3,1181.8 1103.0,1182.4 1104.8,1182.4 1106.5,1183.4 1108.2,1183.9 1109.9,1184.2 1111.6,1184.8 1113.3,1185.1 1115.0,1185.4 1116.7,1185.9 1118.4,1186.0 1120.1,1186.7 1121.8,1186.9 1123.6,1187.3 1125.3,1187.6 1127.0,1187.9 1128.7,1188.1 1130.4,1188.7 1132.1,1189.3 1133.8,1189.0 1135.5,1189.8 1137.2,1191.0 1138.9,1190.5 1140.6,1190.8 1142.4,1191.3 1144.1,1191.5 1145.8,1191.9 1147.5,1192.2 1149.2,1192.2 1150.9,1193.1 1152.6,1193.2 1154.3,1193.7 1156.0,1193.8 1157.7,1194.3 1159.4,1194.4 1161.1,1195.4 1162.9,1195.3 1164.6,1195.6 1166.3,1195.6 1168.0,1195.5 1169.7,1196.1 1171.4,1196.6 1173.1,1196.8 1174.8,1196.9 1176.5,1197.1 1178.2,1197.3 1179.9,1197.7 1181.7,1198.3 1183.4,1198.5 1185.1,1198.8 1186.8,1198.9 1188.5,1199.2 1190.2,1199.4 1191.9,1199.8 1193.6,1200.0 1195.3,1200.4 1197.0,1200.4 1198.7,1200.7 1200.4,1201.3 1202.2,1201.5 1203.9,1200.9 1205.6,1201.8 1207.3,1202.0 1209.0,1202.4 1210.7,1201.9 1212.4,1202.2 1214.1,1202.8 1215.8,1203.1 1217.5,1203.0 1219.2,1203.8 1221.0,1204.0 1222.7,1204.2 1224.4,1204.4 1226.1,1204.2 1227.8,1204.6 1229.5,1204.3 1231.2,1205.4 1232.9,1205.6 1234.6,1205.6 1236.3,1205.5 1238.0,1206.0 1239.8,1206.4 1241.5,1206.1 1243.2,1206.7 1244.9,1207.0 1246.6,1206.8 1248.3,1207.1 1250.0,1207.7 1251.7,1207.8 1253.4,1208.2 1255.1,1208.1 1256.8,1208.0 1258.5,1208.4 1260.3,1208.5 1262.0,1208.7 1263.7,1209.1 1265.4,1209.6 1267.1,1209.4 1268.8,1210.0 1270.5,1209.4 1272.2,1209.9 1273.9,1210.1 1275.6,1209.8 1277.3,1210.1 1279.1,1210.6 1280.8,1210.9 1282.5,1211.2 1284.2,1211.2 1285.9,1211.3 1287.6,1211.2 1289.3,1211.8 1291.0,1212.3 1292.7,1212.2 1294.4,1212.1 1296.1,1212.5 1297.8,1212.7 1299.6,1213.1 1301.3,1212.8 1303.0,1213.2 1304.7,1213.4 1306.4,1213.4 1308.1,1213.6 1309.8,1213.7 1311.5,1214.0 1313.2,1214.2 1314.9,1214.0 1316.6,1214.4 1318.4,1215.0 1320.1,1214.8 1321.8,1214.5 1323.5,1215.4 1325.2,1215.2 1326.9,1215.4 1328.6,1215.7 1330.3,1215.6 1332.0,1215.6 1333.7,1215.8 1335.4,1216.2 1337.2,1216.3 1338.9,1216.4 1340.6,1217.1 1342.3,1216.8 1344.0,1217.1 1345.7,1217.6 1347.4,1217.2 1349.1,1217.2 1350.8,1217.4 1352.5,1217.6 1354.2,1218.2 1355.9,1218.2 1357.7,1218.0 1359.4,1218.0 1361.1,1218.5 1362.8,1218.9 1364.5,1218.5 1366.2,1219.1 1367.9,1219.0 1369.6,1219.0 1371.3,1219.1 1373.0,1219.1 1374.7,1219.3 1376.5,1219.9 1378.2,1219.3 1379.9,1219.7 1381.6,1219.9 1383.3,1219.8 1385.0,1220.1 1386.7,1220.0 1388.4,1220.6 1390.1,1220.8 1391.8,1220.4 1393.5,1221.2 1395.2,1220.7 1397.0,1220.6 1398.7,1220.8 1400.4,1221.5 1402.1,1220.9 1403.8,1221.6 1405.5,1221.8 1407.2,1222.1 1408.9,1221.9 1410.6,1222.4 1412.3,1222.1 1414.0,1222.6 1415.8,1222.2 1417.5,1222.7 1419.2,1222.6 1420.9,1222.9 1422.6,1223.5 1424.3,1223.1 1426.0,1223.2 1427.7,1223.3 1429.4,1223.5 1431.1,1223.0 1432.8,1223.8 1434.6,1223.4 1436.3,1223.4 1438.0,1224.0 1439.7,1223.8 1441.4,1224.3 1443.1,1224.6 1444.8,1224.4 1446.5,1224.3 1448.2,1224.7 1449.9,1225.3 1451.6,1224.9 1453.3,1225.4 1455.1,1225.5 1456.8,1224.9 1458.5,1225.5 1460.2,1225.1 1461.9,1225.7 1463.6,1225.8" fill="none" stroke="#006400" stroke-width="3.2" stroke-linejoin="round"/>
<path d="M1280.7 879.7H1326.4" stroke="#000" stroke-width="4"/>
<text x="1353.10" y="887.90" font-size="26" text-anchor="middle" letter-spacing="1.05">All</text>
<path d="M1280.7 916.4H1326.4" stroke="#8b0000" stroke-width="4"/>
<text x="1362.40" y="924.00" font-size="26" text-anchor="middle" letter-spacing="1.4">Wild</text>
<path d="M1280.7 953.5H1326.4" stroke="#0000ff" stroke-width="4"/>
<text x="1390.20" y="962.40" font-size="26" text-anchor="middle" letter-spacing="0.1">Semi-wild</text>
<path d="M1280.7 990.3H1326.4" stroke="#006400" stroke-width="4"/>
<text x="1393.10" y="996.90" font-size="26" text-anchor="middle" letter-spacing="0.3">Cultivated</text>
</svg></body></html>
